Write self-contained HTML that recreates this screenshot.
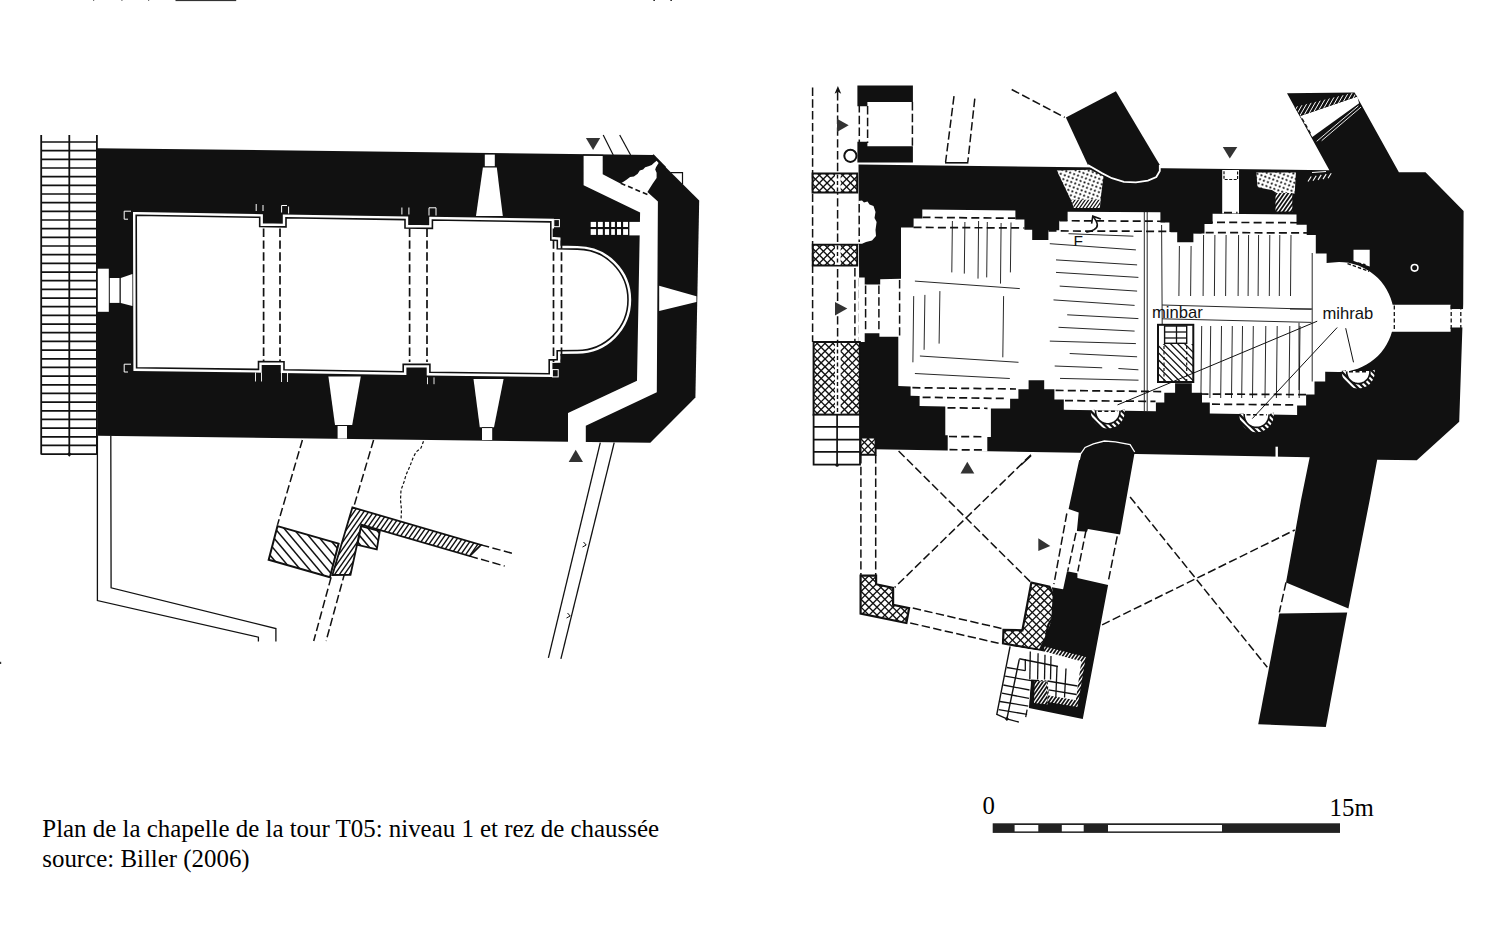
<!DOCTYPE html><html><head><meta charset="utf-8"><title>Plan</title><style>html,body{margin:0;padding:0;background:#fff;width:1502px;height:926px;overflow:hidden;font-family:"Liberation Serif",serif}</style></head><body><svg width="1502" height="926" viewBox="0 0 1502 926" style="position:absolute;left:0;top:0"><rect x="93.0" y="0.0" width="1.2" height="0.8" fill="#555" stroke="none" stroke-width="0"/>
<rect x="121.3" y="0.0" width="1.2" height="0.8" fill="#555" stroke="none" stroke-width="0"/>
<rect x="148.0" y="0.0" width="1.2" height="0.8" fill="#555" stroke="none" stroke-width="0"/>
<rect x="175.5" y="0.0" width="60.7" height="1.1" fill="#333" stroke="none" stroke-width="0"/>
<rect x="653.3" y="0.0" width="1.7" height="1.0" fill="#333" stroke="none" stroke-width="0"/>
<rect x="670.3" y="0.0" width="1.7" height="1.0" fill="#333" stroke="none" stroke-width="0"/>
<rect x="0.0" y="661.8" width="1.2" height="2.2" fill="#333" stroke="none" stroke-width="0"/>
<line x1="41.2" y1="135.0" x2="41.2" y2="454.4" stroke="#111" stroke-width="1.8"/>
<line x1="69.3" y1="135.0" x2="69.3" y2="454.4" stroke="#111" stroke-width="1.8"/>
<line x1="96.9" y1="135.0" x2="96.9" y2="454.4" stroke="#111" stroke-width="1.8"/>
<line x1="41.2" y1="142.0" x2="96.9" y2="142.0" stroke="#111" stroke-width="1.7"/>
<line x1="41.2" y1="150.7" x2="96.9" y2="150.7" stroke="#111" stroke-width="1.7"/>
<line x1="41.2" y1="159.3" x2="96.9" y2="159.3" stroke="#111" stroke-width="1.7"/>
<line x1="41.2" y1="168.0" x2="96.9" y2="168.0" stroke="#111" stroke-width="1.7"/>
<line x1="41.2" y1="176.7" x2="96.9" y2="176.7" stroke="#111" stroke-width="1.7"/>
<line x1="41.2" y1="185.3" x2="96.9" y2="185.3" stroke="#111" stroke-width="1.7"/>
<line x1="41.2" y1="194.0" x2="96.9" y2="194.0" stroke="#111" stroke-width="1.7"/>
<line x1="41.2" y1="202.7" x2="96.9" y2="202.7" stroke="#111" stroke-width="1.7"/>
<line x1="41.2" y1="211.4" x2="96.9" y2="211.4" stroke="#111" stroke-width="1.7"/>
<line x1="41.2" y1="220.0" x2="96.9" y2="220.0" stroke="#111" stroke-width="1.7"/>
<line x1="41.2" y1="228.7" x2="96.9" y2="228.7" stroke="#111" stroke-width="1.7"/>
<line x1="41.2" y1="237.4" x2="96.9" y2="237.4" stroke="#111" stroke-width="1.7"/>
<line x1="41.2" y1="246.0" x2="96.9" y2="246.0" stroke="#111" stroke-width="1.7"/>
<line x1="41.2" y1="254.7" x2="96.9" y2="254.7" stroke="#111" stroke-width="1.7"/>
<line x1="41.2" y1="263.4" x2="96.9" y2="263.4" stroke="#111" stroke-width="1.7"/>
<line x1="41.2" y1="272.1" x2="96.9" y2="272.1" stroke="#111" stroke-width="1.7"/>
<line x1="41.2" y1="280.7" x2="96.9" y2="280.7" stroke="#111" stroke-width="1.7"/>
<line x1="41.2" y1="289.4" x2="96.9" y2="289.4" stroke="#111" stroke-width="1.7"/>
<line x1="41.2" y1="298.1" x2="96.9" y2="298.1" stroke="#111" stroke-width="1.7"/>
<line x1="41.2" y1="306.7" x2="96.9" y2="306.7" stroke="#111" stroke-width="1.7"/>
<line x1="41.2" y1="315.4" x2="96.9" y2="315.4" stroke="#111" stroke-width="1.7"/>
<line x1="41.2" y1="324.1" x2="96.9" y2="324.1" stroke="#111" stroke-width="1.7"/>
<line x1="41.2" y1="332.7" x2="96.9" y2="332.7" stroke="#111" stroke-width="1.7"/>
<line x1="41.2" y1="341.4" x2="96.9" y2="341.4" stroke="#111" stroke-width="1.7"/>
<line x1="41.2" y1="350.1" x2="96.9" y2="350.1" stroke="#111" stroke-width="1.7"/>
<line x1="41.2" y1="358.8" x2="96.9" y2="358.8" stroke="#111" stroke-width="1.7"/>
<line x1="41.2" y1="367.4" x2="96.9" y2="367.4" stroke="#111" stroke-width="1.7"/>
<line x1="41.2" y1="376.1" x2="96.9" y2="376.1" stroke="#111" stroke-width="1.7"/>
<line x1="41.2" y1="384.8" x2="96.9" y2="384.8" stroke="#111" stroke-width="1.7"/>
<line x1="41.2" y1="393.4" x2="96.9" y2="393.4" stroke="#111" stroke-width="1.7"/>
<line x1="41.2" y1="402.1" x2="96.9" y2="402.1" stroke="#111" stroke-width="1.7"/>
<line x1="41.2" y1="410.8" x2="96.9" y2="410.8" stroke="#111" stroke-width="1.7"/>
<line x1="41.2" y1="419.4" x2="96.9" y2="419.4" stroke="#111" stroke-width="1.7"/>
<line x1="41.2" y1="428.1" x2="96.9" y2="428.1" stroke="#111" stroke-width="1.7"/>
<line x1="41.2" y1="436.8" x2="96.9" y2="436.8" stroke="#111" stroke-width="1.7"/>
<line x1="41.2" y1="445.4" x2="96.9" y2="445.4" stroke="#111" stroke-width="1.7"/>
<line x1="41.2" y1="454.1" x2="96.9" y2="454.1" stroke="#111" stroke-width="1.7"/>
<polygon points="69.3,451.9 71.6,454.3 69.3,456.7 67.0,454.3" fill="#111" stroke="none" stroke-width="0" />
<polygon points="96.4,148.2 653.4,154.9 699.2,200.6 695.4,397.4 650.3,442.7 97.4,435.8" fill="#111" stroke="none" stroke-width="0" />
<rect x="97.8" y="268.7" width="11.0" height="43.1" fill="#fff" stroke="none" stroke-width="0"/>
<rect x="109.8" y="278.0" width="9.7" height="24.9" fill="#fff" stroke="none" stroke-width="0"/>
<polygon points="120.8,278.0 132.4,273.9 132.4,306.0 120.8,302.9" fill="#fff" stroke="none" stroke-width="0" />
<rect x="484.8" y="154.6" width="10.0" height="11.6" fill="#fff" stroke="none" stroke-width="0"/>
<polygon points="482.9,167.4 496.8,167.4 502.8,216.0 476.0,216.0" fill="#fff" stroke="none" stroke-width="0" />
<polygon points="328.4,376.5 360.8,376.5 352.2,425.0 335.0,425.0" fill="#fff" stroke="none" stroke-width="0" />
<rect x="337.6" y="426.0" width="9.4" height="12.6" fill="#fff" stroke="none" stroke-width="0"/>
<line x1="337.6" y1="425.5" x2="347.0" y2="425.5" stroke="#111" stroke-width="0.8"/>
<polygon points="473.5,379.1 503.6,379.1 494.0,427.3 479.8,427.3" fill="#fff" stroke="none" stroke-width="0" />
<rect x="482.0" y="428.0" width="10.2" height="12.0" fill="#fff" stroke="none" stroke-width="0"/>
<line x1="482.0" y1="427.6" x2="492.2" y2="427.6" stroke="#111" stroke-width="0.8"/>
<polygon points="583.6,155.4 602.7,155.4 602.7,174.2 620.4,183.5 623.1,181.9 626.5,179.8 630.1,177.0 633.9,176.5 637.7,173.8 639.8,170.5 643.1,169.4 645.2,167.3 648.5,166.2 651.7,165.1 653.9,163.0 656.6,160.8 658.6,163.0 656.0,167.3 655.2,169.4 656.6,172.7 656.6,178.1 652.8,183.5 647.4,192.1 657.9,201.4 656.8,392.2 585.8,425.8 585.8,443.5 568.0,443.5 568.0,413.0 637.0,380.8 640.1,212.4 583.6,185.2" fill="#fff" stroke="none" stroke-width="0" />
<line x1="583.0" y1="155.2" x2="603.3" y2="155.4" stroke="#111" stroke-width="1.2"/>
<line x1="653.0" y1="154.8" x2="665.5" y2="167.6" stroke="#111" stroke-width="1.6"/>
<line x1="620.7" y1="183.2" x2="647.6" y2="194.6" stroke="#111" stroke-width="1.6" stroke-dasharray="5,3"/>
<polygon points="629.4,221.9 641.0,221.9 641.0,235.4 629.4,235.4" fill="#fff" stroke="none" stroke-width="0" />
<rect x="590.7" y="221.9" width="5.4" height="5.1" fill="#fff" stroke="none" stroke-width="0"/>
<rect x="590.7" y="229.1" width="5.4" height="5.8" fill="#fff" stroke="none" stroke-width="0"/>
<rect x="597.9" y="221.9" width="4.9" height="5.1" fill="#fff" stroke="none" stroke-width="0"/>
<rect x="597.9" y="229.1" width="4.9" height="5.8" fill="#fff" stroke="none" stroke-width="0"/>
<rect x="604.9" y="221.9" width="4.2" height="5.1" fill="#fff" stroke="none" stroke-width="0"/>
<rect x="604.9" y="229.1" width="4.2" height="5.8" fill="#fff" stroke="none" stroke-width="0"/>
<rect x="611.2" y="221.9" width="3.7" height="5.1" fill="#fff" stroke="none" stroke-width="0"/>
<rect x="611.2" y="229.1" width="3.7" height="5.8" fill="#fff" stroke="none" stroke-width="0"/>
<rect x="617.0" y="221.9" width="4.0" height="5.1" fill="#fff" stroke="none" stroke-width="0"/>
<rect x="617.0" y="229.1" width="4.0" height="5.8" fill="#fff" stroke="none" stroke-width="0"/>
<rect x="623.1" y="221.9" width="4.9" height="5.1" fill="#fff" stroke="none" stroke-width="0"/>
<rect x="623.1" y="229.1" width="4.9" height="5.8" fill="#fff" stroke="none" stroke-width="0"/>
<polygon points="659.2,285.8 696.4,296.3 696.4,302.0 659.2,311.0" fill="#fff" stroke="none" stroke-width="0" />
<path d="M136.2,215.3 L259.7,217.3 L259.7,226.5 L286,226.9 L286,217.7 L405,219.6 L405,228.0 L432.4,228.4 L432.4,220.0 L550.8,221.9 L550.8,240.0 L557.3,240.4 L557.3,248.7 L577.3,249.1 A50.7,50.7 0 0 1 577.3,350.5 L557.2,350.7 L557.2,359.7 L549.2,359.9 L549.2,373.8 L429.9,372.3 L429.9,364.4 L403.2,364.4 L403.2,371.7 L284,369.8 L284,361.8 L258.5,361.5 L258.5,369.4 L136.6,367.8 Z" fill="#fff" stroke="#fff" stroke-width="6.4" />
<path d="M136.2,215.3 L259.7,217.3 L259.7,226.5 L286,226.9 L286,217.7 L405,219.6 L405,228.0 L432.4,228.4 L432.4,220.0 L550.8,221.9 L550.8,240.0 L557.3,240.4 L557.3,248.7 L577.3,249.1 A50.7,50.7 0 0 1 577.3,350.5 L557.2,350.7 L557.2,359.7 L549.2,359.9 L549.2,373.8 L429.9,372.3 L429.9,364.4 L403.2,364.4 L403.2,371.7 L284,369.8 L284,361.8 L258.5,361.5 L258.5,369.4 L136.6,367.8 Z" fill="#fff" stroke="#111" stroke-width="1.6" />
<rect x="553.8" y="219.6" width="5.6" height="7.1" fill="#111" stroke="#fff" stroke-width="1.0"/>
<rect x="552.4" y="369.6" width="5.8" height="7.3" fill="#111" stroke="#fff" stroke-width="1.0"/>
<polyline points="131.0,211.2 124.2,211.2 124.2,219.2 128.0,219.2" fill="none" stroke="#fff" stroke-width="1.0" />
<polyline points="131.0,364.2 124.2,364.2 124.2,372.0 128.0,372.0" fill="none" stroke="#fff" stroke-width="1.0" />
<line x1="256.2" y1="204.0" x2="256.2" y2="211.0" stroke="#fff" stroke-width="1.0"/>
<line x1="263.0" y1="205.0" x2="263.0" y2="211.0" stroke="#fff" stroke-width="1.0"/>
<line x1="401.9" y1="207.5" x2="401.9" y2="214.5" stroke="#fff" stroke-width="1.0"/>
<line x1="408.9" y1="207.5" x2="408.9" y2="214.5" stroke="#fff" stroke-width="1.0"/>
<polyline points="281.6,212.5 281.6,205.5 287.0,205.5" fill="none" stroke="#fff" stroke-width="1.0" />
<line x1="288.6" y1="206.5" x2="288.6" y2="213.5" stroke="#fff" stroke-width="1.0"/>
<polyline points="429.0,215.5 429.0,207.8 436.0,207.8 436.0,215.5" fill="none" stroke="#fff" stroke-width="1.0" />
<line x1="255.5" y1="372.5" x2="255.5" y2="381.5" stroke="#fff" stroke-width="0.9"/>
<line x1="261.5" y1="372.5" x2="261.5" y2="381.5" stroke="#fff" stroke-width="0.9"/>
<line x1="281.5" y1="373.0" x2="281.5" y2="382.0" stroke="#fff" stroke-width="0.9"/>
<line x1="287.5" y1="373.0" x2="287.5" y2="382.0" stroke="#fff" stroke-width="0.9"/>
<line x1="427.5" y1="377.4" x2="427.5" y2="384.2" stroke="#fff" stroke-width="0.9"/>
<line x1="434.0" y1="377.4" x2="434.0" y2="384.2" stroke="#fff" stroke-width="0.9"/>
<line x1="263.6" y1="228.5" x2="263.6" y2="362.0" stroke="#111" stroke-width="1.7" stroke-dasharray="8.4,3.5"/>
<line x1="280.0" y1="228.5" x2="280.0" y2="362.0" stroke="#111" stroke-width="1.7" stroke-dasharray="8.4,3.5"/>
<line x1="409.6" y1="228.5" x2="409.6" y2="362.0" stroke="#111" stroke-width="1.7" stroke-dasharray="8.4,3.5"/>
<line x1="427.0" y1="228.5" x2="427.0" y2="362.0" stroke="#111" stroke-width="1.7" stroke-dasharray="8.4,3.5"/>
<line x1="553.5" y1="228.5" x2="553.5" y2="362.0" stroke="#111" stroke-width="1.7" stroke-dasharray="8.4,3.5"/>
<line x1="561.5" y1="228.5" x2="561.5" y2="362.0" stroke="#111" stroke-width="1.7" stroke-dasharray="8.4,3.5"/>
<polygon points="585.9,137.9 600.2,137.9 593.1,150.1" fill="#333" stroke="none" stroke-width="0" />
<polygon points="568.7,462.1 583.0,462.1 575.7,449.7" fill="#333" stroke="none" stroke-width="0" />
<line x1="603.2" y1="135.0" x2="613.2" y2="154.9" stroke="#111" stroke-width="1.2"/>
<line x1="619.7" y1="135.0" x2="630.6" y2="155.0" stroke="#111" stroke-width="1.2"/>
<polyline points="670.4,172.7 682.5,172.7 682.5,184.2" fill="none" stroke="#111" stroke-width="1.2" />
<line x1="600.3" y1="442.7" x2="548.4" y2="657.8" stroke="#111" stroke-width="1.3"/>
<line x1="614.2" y1="442.7" x2="560.9" y2="658.8" stroke="#111" stroke-width="1.3"/>
<polyline points="583.5,542.0 586.2,545.0 582.5,547.0" fill="none" stroke="#111" stroke-width="1.0" />
<polyline points="567.5,613.0 570.2,616.0 566.5,618.0" fill="none" stroke="#111" stroke-width="1.0" />
<polyline points="97.4,435.5 97.4,600.6 258.4,637.2 258.4,641.5" fill="none" stroke="#111" stroke-width="1.3" />
<polyline points="110.8,435.5 111.1,587.8 275.9,628.5 275.9,641.5" fill="none" stroke="#111" stroke-width="1.3" />
<line x1="302.4" y1="440.0" x2="277.5" y2="524.9" stroke="#111" stroke-width="1.5" stroke-dasharray="8.4,3.4"/>
<line x1="373.6" y1="440.0" x2="353.6" y2="507.4" stroke="#111" stroke-width="1.5" stroke-dasharray="8.4,3.4"/>
<line x1="344.9" y1="572.3" x2="326.1" y2="641.0" stroke="#111" stroke-width="1.5" stroke-dasharray="8.4,3.4"/>
<line x1="331.1" y1="577.3" x2="313.7" y2="641.0" stroke="#111" stroke-width="1.5" stroke-dasharray="8.4,3.4"/>
<line x1="481.0" y1="544.9" x2="513.4" y2="553.6" stroke="#111" stroke-width="1.5" stroke-dasharray="8.4,3.4"/>
<line x1="469.7" y1="556.1" x2="504.7" y2="566.1" stroke="#111" stroke-width="1.5" stroke-dasharray="8.4,3.4"/>
<polyline points="423.5,441.2 421.0,448.0 416.0,452.0 413.0,458.0 410.0,466.0 406.0,475.0 404.0,482.0 401.0,490.0 400.5,500.0 401.5,510.0 401.0,519.9" fill="none" stroke="#111" stroke-width="1.2" stroke-dasharray="3,2" />
<clipPath id="hA"><polygon points="277.5,526.1 338.6,543.6 329.9,577.3 268.7,559.8"/></clipPath>
<polygon points="277.5,526.1 338.6,543.6 329.9,577.3 268.7,559.8" fill="#fff" stroke="none" stroke-width="0" />
<g clip-path="url(#hA)"><line x1="312.1" y1="485.5" x2="370.3" y2="554.9" stroke="#111" stroke-width="1.5"/><line x1="306.7" y1="490.0" x2="365.0" y2="559.4" stroke="#111" stroke-width="1.5"/><line x1="301.3" y1="494.5" x2="359.6" y2="563.9" stroke="#111" stroke-width="1.5"/><line x1="296.0" y1="499.0" x2="354.2" y2="568.4" stroke="#111" stroke-width="1.5"/><line x1="290.6" y1="503.5" x2="348.9" y2="572.9" stroke="#111" stroke-width="1.5"/><line x1="285.2" y1="508.0" x2="343.5" y2="577.4" stroke="#111" stroke-width="1.5"/><line x1="279.9" y1="512.5" x2="338.1" y2="581.9" stroke="#111" stroke-width="1.5"/><line x1="274.5" y1="517.0" x2="332.8" y2="586.4" stroke="#111" stroke-width="1.5"/><line x1="269.2" y1="521.5" x2="327.4" y2="590.9" stroke="#111" stroke-width="1.5"/><line x1="263.8" y1="526.0" x2="322.1" y2="595.4" stroke="#111" stroke-width="1.5"/><line x1="258.4" y1="530.5" x2="316.7" y2="599.9" stroke="#111" stroke-width="1.5"/><line x1="253.1" y1="535.0" x2="311.3" y2="604.4" stroke="#111" stroke-width="1.5"/><line x1="247.7" y1="539.5" x2="306.0" y2="608.9" stroke="#111" stroke-width="1.5"/><line x1="242.3" y1="544.0" x2="300.6" y2="613.4" stroke="#111" stroke-width="1.5"/><line x1="237.0" y1="548.5" x2="295.2" y2="617.9" stroke="#111" stroke-width="1.5"/></g>
<polygon points="277.5,526.1 338.6,543.6 329.9,577.3 268.7,559.8" fill="none" stroke="#111" stroke-width="2.0" />
<clipPath id="hC"><polygon points="361.0,526.1 379.8,531.1 376.8,549.3 357.4,544.9"/></clipPath>
<polygon points="361.0,526.1 379.8,531.1 376.8,549.3 357.4,544.9" fill="#fff" stroke="none" stroke-width="0" />
<g clip-path="url(#hC)"><line x1="373.8" y1="509.7" x2="397.1" y2="537.4" stroke="#111" stroke-width="1.5"/><line x1="369.6" y1="513.2" x2="392.9" y2="541.0" stroke="#111" stroke-width="1.5"/><line x1="365.4" y1="516.7" x2="388.7" y2="544.5" stroke="#111" stroke-width="1.5"/><line x1="361.2" y1="520.3" x2="384.5" y2="548.0" stroke="#111" stroke-width="1.5"/><line x1="356.9" y1="523.8" x2="380.3" y2="551.6" stroke="#111" stroke-width="1.5"/><line x1="352.7" y1="527.4" x2="376.0" y2="555.1" stroke="#111" stroke-width="1.5"/><line x1="348.5" y1="530.9" x2="371.8" y2="558.7" stroke="#111" stroke-width="1.5"/><line x1="344.3" y1="534.4" x2="367.6" y2="562.2" stroke="#111" stroke-width="1.5"/><line x1="340.1" y1="538.0" x2="363.4" y2="565.7" stroke="#111" stroke-width="1.5"/></g>
<polygon points="361.0,526.1 379.8,531.1 376.8,549.3 357.4,544.9" fill="none" stroke="#111" stroke-width="1.8" />
<clipPath id="hB"><polygon points="352.4,507.4 481.0,544.9 469.7,556.1 361.3,524.7 350.5,574.8 332.4,575.0"/></clipPath>
<polygon points="352.4,507.4 481.0,544.9 469.7,556.1 361.3,524.7 350.5,574.8 332.4,575.0" fill="#fff" stroke="none" stroke-width="0" />
<g clip-path="url(#hB)"><line x1="289.9" y1="561.5" x2="385.9" y2="424.5" stroke="#111" stroke-width="1.4"/><line x1="293.2" y1="563.8" x2="389.1" y2="426.8" stroke="#111" stroke-width="1.4"/><line x1="296.5" y1="566.1" x2="392.4" y2="429.1" stroke="#111" stroke-width="1.4"/><line x1="299.8" y1="568.4" x2="395.7" y2="431.4" stroke="#111" stroke-width="1.4"/><line x1="303.0" y1="570.7" x2="399.0" y2="433.7" stroke="#111" stroke-width="1.4"/><line x1="306.3" y1="573.0" x2="402.2" y2="436.0" stroke="#111" stroke-width="1.4"/><line x1="309.6" y1="575.3" x2="405.5" y2="438.3" stroke="#111" stroke-width="1.4"/><line x1="312.9" y1="577.6" x2="408.8" y2="440.6" stroke="#111" stroke-width="1.4"/><line x1="316.1" y1="579.9" x2="412.1" y2="442.9" stroke="#111" stroke-width="1.4"/><line x1="319.4" y1="582.2" x2="415.3" y2="445.2" stroke="#111" stroke-width="1.4"/><line x1="322.7" y1="584.5" x2="418.6" y2="447.5" stroke="#111" stroke-width="1.4"/><line x1="326.0" y1="586.8" x2="421.9" y2="449.8" stroke="#111" stroke-width="1.4"/><line x1="329.2" y1="589.1" x2="425.2" y2="452.0" stroke="#111" stroke-width="1.4"/><line x1="332.5" y1="591.3" x2="428.5" y2="454.3" stroke="#111" stroke-width="1.4"/><line x1="335.8" y1="593.6" x2="431.7" y2="456.6" stroke="#111" stroke-width="1.4"/><line x1="339.1" y1="595.9" x2="435.0" y2="458.9" stroke="#111" stroke-width="1.4"/><line x1="342.4" y1="598.2" x2="438.3" y2="461.2" stroke="#111" stroke-width="1.4"/><line x1="345.6" y1="600.5" x2="441.6" y2="463.5" stroke="#111" stroke-width="1.4"/><line x1="348.9" y1="602.8" x2="444.8" y2="465.8" stroke="#111" stroke-width="1.4"/><line x1="352.2" y1="605.1" x2="448.1" y2="468.1" stroke="#111" stroke-width="1.4"/><line x1="355.5" y1="607.4" x2="451.4" y2="470.4" stroke="#111" stroke-width="1.4"/><line x1="358.7" y1="609.7" x2="454.7" y2="472.7" stroke="#111" stroke-width="1.4"/><line x1="362.0" y1="612.0" x2="457.9" y2="475.0" stroke="#111" stroke-width="1.4"/><line x1="365.3" y1="614.3" x2="461.2" y2="477.3" stroke="#111" stroke-width="1.4"/><line x1="368.6" y1="616.6" x2="464.5" y2="479.6" stroke="#111" stroke-width="1.4"/><line x1="371.8" y1="618.9" x2="467.8" y2="481.9" stroke="#111" stroke-width="1.4"/><line x1="375.1" y1="621.2" x2="471.0" y2="484.2" stroke="#111" stroke-width="1.4"/><line x1="378.4" y1="623.5" x2="474.3" y2="486.5" stroke="#111" stroke-width="1.4"/><line x1="381.7" y1="625.8" x2="477.6" y2="488.8" stroke="#111" stroke-width="1.4"/><line x1="384.9" y1="628.1" x2="480.9" y2="491.1" stroke="#111" stroke-width="1.4"/><line x1="388.2" y1="630.4" x2="484.2" y2="493.3" stroke="#111" stroke-width="1.4"/><line x1="391.5" y1="632.6" x2="487.4" y2="495.6" stroke="#111" stroke-width="1.4"/><line x1="394.8" y1="634.9" x2="490.7" y2="497.9" stroke="#111" stroke-width="1.4"/><line x1="398.1" y1="637.2" x2="494.0" y2="500.2" stroke="#111" stroke-width="1.4"/><line x1="401.3" y1="639.5" x2="497.3" y2="502.5" stroke="#111" stroke-width="1.4"/><line x1="404.6" y1="641.8" x2="500.5" y2="504.8" stroke="#111" stroke-width="1.4"/><line x1="407.9" y1="644.1" x2="503.8" y2="507.1" stroke="#111" stroke-width="1.4"/><line x1="411.2" y1="646.4" x2="507.1" y2="509.4" stroke="#111" stroke-width="1.4"/><line x1="414.4" y1="648.7" x2="510.4" y2="511.7" stroke="#111" stroke-width="1.4"/><line x1="417.7" y1="651.0" x2="513.6" y2="514.0" stroke="#111" stroke-width="1.4"/><line x1="421.0" y1="653.3" x2="516.9" y2="516.3" stroke="#111" stroke-width="1.4"/><line x1="424.3" y1="655.6" x2="520.2" y2="518.6" stroke="#111" stroke-width="1.4"/><line x1="427.5" y1="657.9" x2="523.5" y2="520.9" stroke="#111" stroke-width="1.4"/></g>
<polygon points="352.4,507.4 481.0,544.9 469.7,556.1 361.3,524.7 350.5,574.8 332.4,575.0" fill="none" stroke="#111" stroke-width="1.8" />
<line x1="812.6" y1="87.5" x2="812.6" y2="342.0" stroke="#111" stroke-width="1.5" stroke-dasharray="8.4,3.4"/>
<line x1="837.6" y1="92.0" x2="837.6" y2="342.0" stroke="#111" stroke-width="1.5" stroke-dasharray="8.4,3.4"/>
<polygon points="834.6,93.8 837.9,86.0 841.2,93.8 837.9,91.8" fill="#111" stroke="none" stroke-width="0" />
<polygon points="837.0,118.7 848.7,125.2 837.0,132.0" fill="#333" stroke="none" stroke-width="0" />
<polygon points="835.0,301.9 847.3,308.4 835.0,315.5" fill="#333" stroke="none" stroke-width="0" />
<circle cx="850.4" cy="155.8" r="6.1" fill="#fff" stroke="#111" stroke-width="2.0"/>
<line x1="859.3" y1="104.0" x2="859.3" y2="143.0" stroke="#111" stroke-width="1.5" stroke-dasharray="8.4,3.4"/>
<line x1="867.6" y1="106.0" x2="867.6" y2="143.0" stroke="#111" stroke-width="1.5" stroke-dasharray="8.4,3.4"/>
<line x1="912.4" y1="102.0" x2="912.4" y2="146.0" stroke="#111" stroke-width="1.5" stroke-dasharray="8.4,3.4"/>
<line x1="859.4" y1="243.0" x2="859.4" y2="245.0" stroke="#111" stroke-width="1.5"/>
<line x1="854.9" y1="268.0" x2="854.9" y2="342.0" stroke="#111" stroke-width="1.5" stroke-dasharray="8.4,3.4"/>
<line x1="859.4" y1="278.0" x2="859.4" y2="342.0" stroke="#111" stroke-width="1.5" stroke-dasharray="8.4,3.4"/>
<line x1="860.9" y1="455.0" x2="860.9" y2="576.0" stroke="#111" stroke-width="1.5" stroke-dasharray="8.4,3.4"/>
<line x1="875.7" y1="455.0" x2="875.7" y2="576.0" stroke="#111" stroke-width="1.5" stroke-dasharray="8.4,3.4"/>
<polygon points="857.4,85.5 912.9,85.5 912.9,102.0 867.4,102.0 867.4,106.2 857.4,106.2" fill="#111" stroke="none" stroke-width="0" />
<polygon points="857.4,141.8 867.4,141.8 867.4,146.2 912.9,146.2 912.9,162.4 857.4,162.4" fill="#111" stroke="none" stroke-width="0" />
<line x1="954.0" y1="96.2" x2="945.6" y2="162.0" stroke="#111" stroke-width="1.5" stroke-dasharray="8.4,3.4"/>
<line x1="974.8" y1="98.7" x2="967.8" y2="162.0" stroke="#111" stroke-width="1.5" stroke-dasharray="8.4,3.4"/>
<line x1="945.0" y1="162.8" x2="968.4" y2="162.8" stroke="#111" stroke-width="1.6"/>
<line x1="1011.7" y1="89.5" x2="1064.7" y2="117.4" stroke="#111" stroke-width="1.5" stroke-dasharray="8.4,3.4"/>
<polygon points="858.5,164.5 1329.4,170.2 1287.0,93.2 1354.6,92.6 1398.9,172.3 1425.5,172.3 1463.6,211.1 1463.2,304.0 1459.2,421.8 1416.8,460.3 1377.2,459.8 1369.7,500.0 1348.4,608.6 1286.0,582.4 1301.0,500.0 1309.7,457.3 1136.7,453.9 1079.2,452.8 860.0,449.0" fill="#111" stroke="none" stroke-width="0" />
<polygon points="1279.3,613.6 1347.2,612.4 1325.8,727.0 1258.2,724.3" fill="#111" stroke="none" stroke-width="0" />
<line x1="1286.0" y1="582.4" x2="1279.3" y2="612.4" stroke="#111" stroke-width="1.5" stroke-dasharray="8.4,3.4"/>
<rect x="1275.5" y="446.7" width="2.4" height="10.3" fill="#fff" stroke="none" stroke-width="0"/>
<polygon points="1300.2,116.0 1357.4,96.6 1359.1,103.3 1312.3,136.9" fill="#fff" stroke="none" stroke-width="0" />
<clipPath id="hE"><polygon points="1294.5,107.0 1353.0,92.8 1357.4,96.6 1300.2,116.0"/></clipPath>
<polygon points="1294.5,107.0 1353.0,92.8 1357.4,96.6 1300.2,116.0" fill="#111" stroke="none" stroke-width="0" />
<g clip-path="url(#hE)"><line x1="1275.8" y1="116.5" x2="1311.3" y2="54.9" stroke="#fff" stroke-width="1.0"/><line x1="1278.7" y1="118.2" x2="1314.3" y2="56.6" stroke="#fff" stroke-width="1.0"/><line x1="1281.7" y1="119.9" x2="1317.2" y2="58.3" stroke="#fff" stroke-width="1.0"/><line x1="1284.6" y1="121.6" x2="1320.2" y2="60.0" stroke="#fff" stroke-width="1.0"/><line x1="1287.6" y1="123.3" x2="1323.1" y2="61.7" stroke="#fff" stroke-width="1.0"/><line x1="1290.5" y1="125.0" x2="1326.0" y2="63.4" stroke="#fff" stroke-width="1.0"/><line x1="1293.5" y1="126.7" x2="1329.0" y2="65.1" stroke="#fff" stroke-width="1.0"/><line x1="1296.4" y1="128.4" x2="1331.9" y2="66.8" stroke="#fff" stroke-width="1.0"/><line x1="1299.4" y1="130.1" x2="1334.9" y2="68.5" stroke="#fff" stroke-width="1.0"/><line x1="1302.3" y1="131.8" x2="1337.8" y2="70.2" stroke="#fff" stroke-width="1.0"/><line x1="1305.2" y1="133.5" x2="1340.8" y2="71.9" stroke="#fff" stroke-width="1.0"/><line x1="1308.2" y1="135.2" x2="1343.7" y2="73.6" stroke="#fff" stroke-width="1.0"/><line x1="1311.1" y1="136.9" x2="1346.7" y2="75.3" stroke="#fff" stroke-width="1.0"/><line x1="1314.1" y1="138.6" x2="1349.6" y2="77.0" stroke="#fff" stroke-width="1.0"/><line x1="1317.0" y1="140.3" x2="1352.5" y2="78.7" stroke="#fff" stroke-width="1.0"/><line x1="1320.0" y1="142.0" x2="1355.5" y2="80.4" stroke="#fff" stroke-width="1.0"/><line x1="1322.9" y1="143.7" x2="1358.4" y2="82.1" stroke="#fff" stroke-width="1.0"/><line x1="1325.9" y1="145.4" x2="1361.4" y2="83.8" stroke="#fff" stroke-width="1.0"/><line x1="1328.8" y1="147.1" x2="1364.3" y2="85.5" stroke="#fff" stroke-width="1.0"/><line x1="1331.7" y1="148.8" x2="1367.3" y2="87.2" stroke="#fff" stroke-width="1.0"/><line x1="1334.7" y1="150.5" x2="1370.2" y2="88.9" stroke="#fff" stroke-width="1.0"/><line x1="1337.6" y1="152.2" x2="1373.2" y2="90.6" stroke="#fff" stroke-width="1.0"/><line x1="1340.6" y1="153.9" x2="1376.1" y2="92.3" stroke="#fff" stroke-width="1.0"/></g>
<line x1="1316.7" y1="141.3" x2="1358.4" y2="105.9" stroke="#fff" stroke-width="0.9"/>
<line x1="1321.7" y1="140.7" x2="1361.0" y2="107.1" stroke="#fff" stroke-width="0.9"/>
<line x1="1302.1" y1="118.5" x2="1311.0" y2="134.3" stroke="#111" stroke-width="1.3" stroke-dasharray="4,2.5"/>
<polygon points="1065.9,117.4 1115.9,91.2 1159.8,165.0 1159.8,171.0 1156.3,177.0 1147.9,180.6 1135.9,182.4 1123.9,181.8 1111.9,178.2 1102.3,173.4 1087.9,165.0" fill="#111" stroke="none" stroke-width="0" />
<polyline points="1159.8,165.0 1159.8,171.0 1156.3,177.0 1147.9,180.6 1135.9,182.4 1123.9,181.8 1111.9,178.2 1102.3,173.4 1087.9,165.0" fill="none" stroke="#fff" stroke-width="1.8" />
<polygon points="858.3,201.0 862.0,200.5 864.0,202.5 867.5,201.5 869.5,204.5 873.5,206.0 875.5,212.0 874.5,218.0 876.6,222.0 875.5,230.0 876.0,236.0 872.0,240.5 866.0,242.0 862.0,243.7 858.3,243.7" fill="#fff" stroke="none" stroke-width="0" />
<line x1="859.2" y1="204.0" x2="859.2" y2="242.0" stroke="#111" stroke-width="1.5" stroke-dasharray="8.4,3.4"/>
<pattern id="dots" width="4.2" height="4.2" patternUnits="userSpaceOnUse" patternTransform="rotate(20)"><rect width="4.2" height="4.2" fill="#fff"/><circle cx="2.1" cy="2.1" r="1.0" fill="#111"/></pattern>
<polygon points="1056.8,170.4 1090.3,169.8 1103.5,176.4 1099.9,204.5 1073.6,205.7" fill="url(#dots)" stroke="none" stroke-width="0" />
<clipPath id="hS1"><polygon points="1071.0,199.8 1100.6,199.8 1099.9,208.1 1073.9,208.1"/></clipPath>
<polygon points="1071.0,199.8 1100.6,199.8 1099.9,208.1 1073.9,208.1" fill="#fff" stroke="none" stroke-width="0" />
<g clip-path="url(#hS1)"><line x1="1059.8" y1="206.9" x2="1079.7" y2="178.5" stroke="#111" stroke-width="1.2"/><line x1="1062.1" y1="208.5" x2="1082.0" y2="180.1" stroke="#111" stroke-width="1.2"/><line x1="1064.4" y1="210.1" x2="1084.3" y2="181.7" stroke="#111" stroke-width="1.2"/><line x1="1066.7" y1="211.8" x2="1086.6" y2="183.3" stroke="#111" stroke-width="1.2"/><line x1="1069.0" y1="213.4" x2="1088.9" y2="184.9" stroke="#111" stroke-width="1.2"/><line x1="1071.2" y1="215.0" x2="1091.2" y2="186.5" stroke="#111" stroke-width="1.2"/><line x1="1073.5" y1="216.6" x2="1093.5" y2="188.1" stroke="#111" stroke-width="1.2"/><line x1="1075.8" y1="218.2" x2="1095.8" y2="189.7" stroke="#111" stroke-width="1.2"/><line x1="1078.1" y1="219.8" x2="1098.1" y2="191.3" stroke="#111" stroke-width="1.2"/><line x1="1080.4" y1="221.4" x2="1100.4" y2="192.9" stroke="#111" stroke-width="1.2"/><line x1="1082.7" y1="223.0" x2="1102.6" y2="194.5" stroke="#111" stroke-width="1.2"/><line x1="1085.0" y1="224.6" x2="1104.9" y2="196.1" stroke="#111" stroke-width="1.2"/><line x1="1087.3" y1="226.2" x2="1107.2" y2="197.8" stroke="#111" stroke-width="1.2"/><line x1="1089.6" y1="227.8" x2="1109.5" y2="199.4" stroke="#111" stroke-width="1.2"/><line x1="1091.9" y1="229.4" x2="1111.8" y2="201.0" stroke="#111" stroke-width="1.2"/></g>
<polygon points="1256.3,172.6 1295.9,172.6 1294.7,193.6 1276.7,193.0 1271.9,190.0 1264.7,188.8 1257.5,187.0" fill="url(#dots)" stroke="none" stroke-width="0" />
<clipPath id="hS2"><polygon points="1275.5,193.0 1292.3,193.0 1292.3,211.5 1275.5,211.5"/></clipPath>
<polygon points="1275.5,193.0 1292.3,193.0 1292.3,211.5 1275.5,211.5" fill="#111" stroke="none" stroke-width="0" />
<g clip-path="url(#hS2)"><line x1="1262.5" y1="204.9" x2="1279.1" y2="181.2" stroke="#fff" stroke-width="1.4"/><line x1="1265.1" y1="206.8" x2="1281.7" y2="183.0" stroke="#fff" stroke-width="1.4"/><line x1="1267.7" y1="208.6" x2="1284.4" y2="184.9" stroke="#fff" stroke-width="1.4"/><line x1="1270.3" y1="210.5" x2="1287.0" y2="186.7" stroke="#fff" stroke-width="1.4"/><line x1="1273.0" y1="212.3" x2="1289.6" y2="188.5" stroke="#fff" stroke-width="1.4"/><line x1="1275.6" y1="214.1" x2="1292.2" y2="190.4" stroke="#fff" stroke-width="1.4"/><line x1="1278.2" y1="216.0" x2="1294.8" y2="192.2" stroke="#fff" stroke-width="1.4"/><line x1="1280.8" y1="217.8" x2="1297.5" y2="194.0" stroke="#fff" stroke-width="1.4"/><line x1="1283.4" y1="219.6" x2="1300.1" y2="195.9" stroke="#fff" stroke-width="1.4"/><line x1="1286.1" y1="221.5" x2="1302.7" y2="197.7" stroke="#fff" stroke-width="1.4"/><line x1="1288.7" y1="223.3" x2="1305.3" y2="199.6" stroke="#fff" stroke-width="1.4"/></g>
<line x1="1308.0" y1="181.5" x2="1311.2" y2="176.5" stroke="#fff" stroke-width="1.1"/>
<line x1="1313.0" y1="180.7" x2="1316.2" y2="175.7" stroke="#fff" stroke-width="1.1"/>
<line x1="1318.0" y1="179.9" x2="1321.2" y2="174.9" stroke="#fff" stroke-width="1.1"/>
<line x1="1323.0" y1="179.1" x2="1326.2" y2="174.1" stroke="#fff" stroke-width="1.1"/>
<line x1="1328.0" y1="178.3" x2="1331.2" y2="173.3" stroke="#fff" stroke-width="1.1"/>
<line x1="1312.0" y1="172.5" x2="1326.0" y2="171.5" stroke="#fff" stroke-width="1.0"/>
<rect x="1222.2" y="170.0" width="16.8" height="43.5" fill="#fff" stroke="none" stroke-width="0"/>
<polyline points="1224.0,171.2 1224.0,179.5 1237.6,179.5 1237.6,171.2" fill="none" stroke="#111" stroke-width="1.2" stroke-dasharray="3,1.5" />
<polygon points="901.0,227.4 913.6,227.4 913.6,218.4 922.3,218.4 922.3,209.4 1015.4,210.6 1015.4,219.6 1024.4,219.6 1024.4,229.8 1032.2,229.8 1032.2,240.0 1048.4,240.0 1048.4,230.3 1059.2,230.3 1059.2,220.7 1067.6,220.7 1067.6,211.7 1160.4,212.3 1160.4,222.5 1169.4,222.5 1169.4,232.1 1177.2,232.1 1177.2,242.3 1193.4,242.3 1193.4,233.5 1204.5,233.5 1204.5,224.0 1212.6,224.0 1212.6,213.7 1296.5,214.5 1296.5,224.7 1306.7,224.7 1306.7,234.9 1315.8,234.9 1315.8,253.4 1326.6,253.4 1326.6,263.0 1339.0,262.0 1343.8,262.2 1348.6,262.8 1353.2,263.9 1357.8,265.3 1362.2,267.2 1366.5,269.4 1370.5,271.9 1374.4,274.9 1377.9,278.1 1381.1,281.6 1384.1,285.5 1386.6,289.5 1388.8,293.8 1390.7,298.2 1392.1,302.8 1393.2,307.4 1393.8,312.2 1394.0,317.0 1393.8,321.8 1393.2,326.6 1392.1,331.2 1390.7,335.8 1388.8,340.2 1386.6,344.5 1384.1,348.5 1381.1,352.4 1377.9,355.9 1374.4,359.1 1370.5,362.1 1366.5,364.6 1362.2,366.8 1357.8,368.7 1353.2,370.1 1348.6,371.2 1343.8,371.8 1339.0,372.0 1325.2,371.8 1325.2,381.4 1314.5,381.4 1314.5,394.6 1306.1,394.6 1306.1,405.4 1297.1,405.4 1297.1,414.9 1209.8,413.4 1209.8,402.4 1202.0,402.4 1202.0,392.8 1191.8,392.8 1191.8,383.2 1175.1,383.2 1175.1,392.8 1164.3,392.8 1164.3,402.4 1155.9,402.4 1155.9,411.3 1063.8,409.8 1063.8,399.4 1054.4,399.4 1054.4,389.2 1044.2,389.2 1044.2,380.2 1028.6,380.2 1028.6,389.2 1018.4,389.2 1018.4,398.8 1010.1,398.8 1010.1,408.4 990.9,408.4 990.9,437.1 987.3,437.1 987.3,451.6 947.7,451.3 947.7,435.3 945.3,435.3 945.3,406.6 919.6,406.0 919.6,396.1 910.6,395.8 910.6,386.5 898.3,386.0 898.3,336.8 879.4,336.8 879.4,333.3 864.7,333.3 864.7,342.0 858.6,342.0 858.6,277.5 864.7,277.5 864.7,284.6 880.2,284.6 880.2,279.3 901.0,278.7" fill="#fff" stroke="none" stroke-width="0" />
<line x1="865.6" y1="285.5" x2="865.6" y2="332.5" stroke="#111" stroke-width="1.5" stroke-dasharray="8.4,3.4"/>
<line x1="878.9" y1="285.5" x2="878.9" y2="332.5" stroke="#111" stroke-width="1.5" stroke-dasharray="8.4,3.4"/>
<line x1="899.6" y1="280.0" x2="899.6" y2="336.5" stroke="#111" stroke-width="1.5" stroke-dasharray="8.4,3.4"/>
<polygon points="1390.0,304.8 1450.6,304.8 1450.6,309.0 1464.0,309.0 1464.0,327.6 1450.6,327.6 1450.6,331.8 1390.0,331.8" fill="#fff" stroke="none" stroke-width="0" />
<line x1="1394.3" y1="305.5" x2="1394.3" y2="331.0" stroke="#111" stroke-width="1.3" stroke-dasharray="4,2.5"/>
<line x1="1451.2" y1="305.5" x2="1451.2" y2="331.0" stroke="#111" stroke-width="1.3" stroke-dasharray="4,2.5"/>
<line x1="1460.8" y1="305.5" x2="1460.8" y2="331.0" stroke="#111" stroke-width="1.3" stroke-dasharray="4,2.5"/>
<polygon points="1353.5,249.8 1369.7,249.8 1369.7,266.5 1353.5,261.0" fill="#fff" stroke="none" stroke-width="0" />
<line x1="1346.9" y1="260.6" x2="1365.5" y2="264.8" stroke="#111" stroke-width="1.4" stroke-dasharray="3.5,2"/>
<line x1="1347.5" y1="263.6" x2="1369.1" y2="271.3" stroke="#111" stroke-width="1.4" stroke-dasharray="3.5,2"/>
<circle cx="1414.6" cy="267.8" r="3.3" fill="none" stroke="#fff" stroke-width="1.6"/>
<clipPath id="n1"><polygon points="1124.6,409.1 1124.8,410.9 1124.8,412.7 1124.5,414.5 1124.1,416.2 1123.6,417.9 1122.8,419.5 1121.9,421.0 1120.8,422.4 1119.6,423.7 1118.3,424.9 1116.8,425.9 1115.3,426.8 1113.6,427.5 1111.9,428.0 1110.2,428.3 1108.4,428.5 1106.6,428.5 1104.8,428.2 1103.1,427.8 1101.4,427.3 1099.8,426.5 1098.3,425.6 1096.9,424.5 1095.6,423.3 1094.4,422.0 1093.4,420.5 1092.5,419.0 1091.8,417.3 1091.3,415.6 1091.0,413.9 1090.8,412.1 1090.8,410.3 1094.9,409.7 1094.8,411.0 1094.8,412.4 1095.0,413.8 1095.3,415.1 1095.7,416.4 1096.3,417.6 1097.0,418.8 1097.8,419.9 1098.8,420.9 1099.8,421.7 1100.9,422.5 1102.1,423.2 1103.4,423.7 1104.7,424.1 1106.0,424.4 1107.3,424.5 1108.7,424.5 1110.1,424.3 1111.4,424.0 1112.7,423.6 1113.9,423.0 1115.1,422.3 1116.2,421.5 1117.2,420.5 1118.0,419.5 1118.8,418.4 1119.5,417.2 1120.0,415.9 1120.4,414.6 1120.7,413.3 1120.8,412.0 1120.8,410.6"/></clipPath>
<polygon points="1124.6,409.1 1124.8,410.9 1124.8,412.7 1124.5,414.5 1124.1,416.2 1123.6,417.9 1122.8,419.5 1121.9,421.0 1120.8,422.4 1119.6,423.7 1118.3,424.9 1116.8,425.9 1115.3,426.8 1113.6,427.5 1111.9,428.0 1110.2,428.3 1108.4,428.5 1106.6,428.5 1104.8,428.2 1103.1,427.8 1101.4,427.3 1099.8,426.5 1098.3,425.6 1096.9,424.5 1095.6,423.3 1094.4,422.0 1093.4,420.5 1092.5,419.0 1091.8,417.3 1091.3,415.6 1091.0,413.9 1090.8,412.1 1090.8,410.3 1094.9,409.7 1094.8,411.0 1094.8,412.4 1095.0,413.8 1095.3,415.1 1095.7,416.4 1096.3,417.6 1097.0,418.8 1097.8,419.9 1098.8,420.9 1099.8,421.7 1100.9,422.5 1102.1,423.2 1103.4,423.7 1104.7,424.1 1106.0,424.4 1107.3,424.5 1108.7,424.5 1110.1,424.3 1111.4,424.0 1112.7,423.6 1113.9,423.0 1115.1,422.3 1116.2,421.5 1117.2,420.5 1118.0,419.5 1118.8,418.4 1119.5,417.2 1120.0,415.9 1120.4,414.6 1120.7,413.3 1120.8,412.0 1120.8,410.6" fill="#111" stroke="none" stroke-width="0" />
<g clip-path="url(#n1)"><line x1="1108.1" y1="388.0" x2="1138.6" y2="418.5" stroke="#fff" stroke-width="2.1"/><line x1="1105.0" y1="391.1" x2="1135.5" y2="421.6" stroke="#fff" stroke-width="2.1"/><line x1="1101.9" y1="394.2" x2="1132.4" y2="424.7" stroke="#fff" stroke-width="2.1"/><line x1="1098.8" y1="397.3" x2="1129.3" y2="427.8" stroke="#fff" stroke-width="2.1"/><line x1="1095.7" y1="400.5" x2="1126.2" y2="430.9" stroke="#fff" stroke-width="2.1"/><line x1="1092.6" y1="403.6" x2="1123.0" y2="434.1" stroke="#fff" stroke-width="2.1"/><line x1="1089.4" y1="406.7" x2="1119.9" y2="437.2" stroke="#fff" stroke-width="2.1"/><line x1="1086.3" y1="409.8" x2="1116.8" y2="440.3" stroke="#fff" stroke-width="2.1"/><line x1="1083.2" y1="412.9" x2="1113.7" y2="443.4" stroke="#fff" stroke-width="2.1"/><line x1="1080.1" y1="416.0" x2="1110.6" y2="446.5" stroke="#fff" stroke-width="2.1"/><line x1="1077.0" y1="419.1" x2="1107.5" y2="449.6" stroke="#fff" stroke-width="2.1"/></g>
<polygon points="1119.2,410.5 1119.2,411.5 1119.2,412.5 1119.0,413.5 1118.8,414.5 1118.5,415.4 1118.1,416.3 1117.7,417.2 1117.1,418.0 1116.5,418.8 1115.9,419.6 1115.1,420.2 1114.3,420.8 1113.5,421.4 1112.6,421.8 1111.7,422.2 1110.8,422.5 1109.8,422.7 1108.8,422.9 1107.8,422.9 1106.8,422.9 1105.8,422.7 1104.8,422.5 1103.9,422.2 1103.0,421.8 1102.1,421.4 1101.3,420.8 1100.5,420.2 1099.7,419.6 1099.1,418.8 1098.5,418.0 1097.9,417.2 1097.5,416.3 1097.1,415.4 1096.8,414.5 1096.6,413.5 1096.4,412.5 1096.4,411.5 1096.4,410.5" fill="#fff" stroke="none" stroke-width="0" />
<line x1="1097.9" y1="411.2" x2="1117.7" y2="411.2" stroke="#111" stroke-width="1.6" stroke-dasharray="4,2.5"/>
<clipPath id="n2"><polygon points="1273.6,412.6 1273.8,414.4 1273.8,416.2 1273.5,418.0 1273.1,419.7 1272.5,421.4 1271.8,423.1 1270.9,424.6 1269.8,426.1 1268.5,427.4 1267.2,428.6 1265.7,429.6 1264.1,430.5 1262.5,431.2 1260.8,431.7 1259.0,432.0 1257.2,432.2 1255.4,432.2 1253.6,431.9 1251.9,431.5 1250.2,430.9 1248.5,430.2 1247.0,429.3 1245.5,428.2 1244.2,426.9 1243.0,425.6 1242.0,424.1 1241.1,422.5 1240.4,420.9 1239.9,419.2 1239.6,417.4 1239.4,415.6 1239.4,413.8 1243.5,413.2 1243.4,414.5 1243.4,415.9 1243.6,417.3 1243.9,418.6 1244.4,419.9 1244.9,421.2 1245.7,422.4 1246.5,423.5 1247.4,424.5 1248.5,425.4 1249.6,426.2 1250.8,426.9 1252.1,427.4 1253.4,427.8 1254.8,428.1 1256.1,428.2 1257.5,428.2 1258.9,428.0 1260.2,427.7 1261.5,427.2 1262.8,426.7 1264.0,425.9 1265.1,425.1 1266.1,424.2 1267.0,423.1 1267.8,422.0 1268.5,420.8 1269.0,419.5 1269.4,418.2 1269.7,416.8 1269.8,415.5 1269.8,414.1"/></clipPath>
<polygon points="1273.6,412.6 1273.8,414.4 1273.8,416.2 1273.5,418.0 1273.1,419.7 1272.5,421.4 1271.8,423.1 1270.9,424.6 1269.8,426.1 1268.5,427.4 1267.2,428.6 1265.7,429.6 1264.1,430.5 1262.5,431.2 1260.8,431.7 1259.0,432.0 1257.2,432.2 1255.4,432.2 1253.6,431.9 1251.9,431.5 1250.2,430.9 1248.5,430.2 1247.0,429.3 1245.5,428.2 1244.2,426.9 1243.0,425.6 1242.0,424.1 1241.1,422.5 1240.4,420.9 1239.9,419.2 1239.6,417.4 1239.4,415.6 1239.4,413.8 1243.5,413.2 1243.4,414.5 1243.4,415.9 1243.6,417.3 1243.9,418.6 1244.4,419.9 1244.9,421.2 1245.7,422.4 1246.5,423.5 1247.4,424.5 1248.5,425.4 1249.6,426.2 1250.8,426.9 1252.1,427.4 1253.4,427.8 1254.8,428.1 1256.1,428.2 1257.5,428.2 1258.9,428.0 1260.2,427.7 1261.5,427.2 1262.8,426.7 1264.0,425.9 1265.1,425.1 1266.1,424.2 1267.0,423.1 1267.8,422.0 1268.5,420.8 1269.0,419.5 1269.4,418.2 1269.7,416.8 1269.8,415.5 1269.8,414.1" fill="#111" stroke="none" stroke-width="0" />
<g clip-path="url(#n2)"><line x1="1256.8" y1="391.4" x2="1287.6" y2="422.2" stroke="#fff" stroke-width="2.1"/><line x1="1253.6" y1="394.6" x2="1284.4" y2="425.4" stroke="#fff" stroke-width="2.1"/><line x1="1250.5" y1="397.7" x2="1281.3" y2="428.5" stroke="#fff" stroke-width="2.1"/><line x1="1247.4" y1="400.8" x2="1278.2" y2="431.6" stroke="#fff" stroke-width="2.1"/><line x1="1244.3" y1="403.9" x2="1275.1" y2="434.7" stroke="#fff" stroke-width="2.1"/><line x1="1241.2" y1="407.0" x2="1272.0" y2="437.8" stroke="#fff" stroke-width="2.1"/><line x1="1238.1" y1="410.1" x2="1268.9" y2="440.9" stroke="#fff" stroke-width="2.1"/><line x1="1235.0" y1="413.2" x2="1265.8" y2="444.0" stroke="#fff" stroke-width="2.1"/><line x1="1231.9" y1="416.3" x2="1262.7" y2="447.1" stroke="#fff" stroke-width="2.1"/><line x1="1228.8" y1="419.4" x2="1259.6" y2="450.2" stroke="#fff" stroke-width="2.1"/><line x1="1225.6" y1="422.6" x2="1256.4" y2="453.4" stroke="#fff" stroke-width="2.1"/></g>
<polygon points="1268.2,414.0 1268.2,415.0 1268.2,416.0 1268.0,417.0 1267.8,418.0 1267.5,419.0 1267.1,419.9 1266.6,420.8 1266.1,421.7 1265.5,422.5 1264.8,423.2 1264.1,423.9 1263.3,424.5 1262.4,425.0 1261.5,425.5 1260.6,425.9 1259.6,426.2 1258.6,426.4 1257.6,426.6 1256.6,426.6 1255.6,426.6 1254.6,426.4 1253.6,426.2 1252.6,425.9 1251.7,425.5 1250.8,425.0 1249.9,424.5 1249.1,423.9 1248.4,423.2 1247.7,422.5 1247.1,421.7 1246.6,420.8 1246.1,419.9 1245.7,419.0 1245.4,418.0 1245.2,417.0 1245.0,416.0 1245.0,415.0 1245.0,414.0" fill="#fff" stroke="none" stroke-width="0" />
<line x1="1246.5" y1="414.7" x2="1266.7" y2="414.7" stroke="#111" stroke-width="1.6" stroke-dasharray="4,2.5"/>
<clipPath id="n3"><polygon points="1374.6,369.7 1374.8,371.4 1374.8,373.2 1374.5,374.9 1374.2,376.5 1373.6,378.2 1372.9,379.7 1372.0,381.2 1370.9,382.6 1369.8,383.9 1368.5,385.0 1367.0,386.0 1365.5,386.8 1363.9,387.5 1362.3,388.0 1360.6,388.3 1358.9,388.5 1357.1,388.5 1355.4,388.2 1353.8,387.9 1352.1,387.3 1350.6,386.6 1349.1,385.7 1347.7,384.6 1346.4,383.5 1345.3,382.2 1344.3,380.7 1343.5,379.2 1342.8,377.6 1342.3,376.0 1342.0,374.3 1341.8,372.6 1341.8,370.8 1346.0,370.3 1345.9,371.6 1345.9,372.9 1346.1,374.2 1346.4,375.4 1346.8,376.6 1347.4,377.8 1348.0,378.9 1348.8,380.0 1349.7,380.9 1350.7,381.8 1351.7,382.5 1352.9,383.1 1354.1,383.7 1355.3,384.0 1356.6,384.3 1357.9,384.4 1359.2,384.4 1360.5,384.2 1361.7,383.9 1362.9,383.5 1364.1,382.9 1365.2,382.3 1366.3,381.5 1367.2,380.6 1368.1,379.6 1368.8,378.6 1369.4,377.4 1370.0,376.2 1370.3,375.0 1370.6,373.7 1370.7,372.4 1370.7,371.1"/></clipPath>
<polygon points="1374.6,369.7 1374.8,371.4 1374.8,373.2 1374.5,374.9 1374.2,376.5 1373.6,378.2 1372.9,379.7 1372.0,381.2 1370.9,382.6 1369.8,383.9 1368.5,385.0 1367.0,386.0 1365.5,386.8 1363.9,387.5 1362.3,388.0 1360.6,388.3 1358.9,388.5 1357.1,388.5 1355.4,388.2 1353.8,387.9 1352.1,387.3 1350.6,386.6 1349.1,385.7 1347.7,384.6 1346.4,383.5 1345.3,382.2 1344.3,380.7 1343.5,379.2 1342.8,377.6 1342.3,376.0 1342.0,374.3 1341.8,372.6 1341.8,370.8 1346.0,370.3 1345.9,371.6 1345.9,372.9 1346.1,374.2 1346.4,375.4 1346.8,376.6 1347.4,377.8 1348.0,378.9 1348.8,380.0 1349.7,380.9 1350.7,381.8 1351.7,382.5 1352.9,383.1 1354.1,383.7 1355.3,384.0 1356.6,384.3 1357.9,384.4 1359.2,384.4 1360.5,384.2 1361.7,383.9 1362.9,383.5 1364.1,382.9 1365.2,382.3 1366.3,381.5 1367.2,380.6 1368.1,379.6 1368.8,378.6 1369.4,377.4 1370.0,376.2 1370.3,375.0 1370.6,373.7 1370.7,372.4 1370.7,371.1" fill="#111" stroke="none" stroke-width="0" />
<g clip-path="url(#n3)"><line x1="1359.0" y1="348.7" x2="1388.7" y2="378.4" stroke="#fff" stroke-width="2.1"/><line x1="1355.9" y1="351.8" x2="1385.6" y2="381.5" stroke="#fff" stroke-width="2.1"/><line x1="1352.8" y1="354.9" x2="1382.5" y2="384.6" stroke="#fff" stroke-width="2.1"/><line x1="1349.7" y1="358.0" x2="1379.4" y2="387.7" stroke="#fff" stroke-width="2.1"/><line x1="1346.6" y1="361.2" x2="1376.2" y2="390.8" stroke="#fff" stroke-width="2.1"/><line x1="1343.5" y1="364.3" x2="1373.1" y2="393.9" stroke="#fff" stroke-width="2.1"/><line x1="1340.4" y1="367.4" x2="1370.0" y2="397.0" stroke="#fff" stroke-width="2.1"/><line x1="1337.2" y1="370.5" x2="1366.9" y2="400.2" stroke="#fff" stroke-width="2.1"/><line x1="1334.1" y1="373.6" x2="1363.8" y2="403.3" stroke="#fff" stroke-width="2.1"/><line x1="1331.0" y1="376.7" x2="1360.7" y2="406.4" stroke="#fff" stroke-width="2.1"/><line x1="1327.9" y1="379.8" x2="1357.6" y2="409.5" stroke="#fff" stroke-width="2.1"/></g>
<polygon points="1369.1,371.1 1369.1,372.0 1369.1,372.9 1368.9,373.9 1368.7,374.8 1368.4,375.7 1368.1,376.6 1367.7,377.4 1367.1,378.2 1366.6,378.9 1365.9,379.6 1365.2,380.3 1364.5,380.8 1363.7,381.4 1362.9,381.8 1362.0,382.1 1361.1,382.4 1360.2,382.6 1359.2,382.8 1358.3,382.8 1357.4,382.8 1356.4,382.6 1355.5,382.4 1354.6,382.1 1353.7,381.8 1352.9,381.4 1352.1,380.8 1351.4,380.3 1350.7,379.6 1350.0,378.9 1349.5,378.2 1348.9,377.4 1348.5,376.6 1348.2,375.7 1347.9,374.8 1347.7,373.9 1347.5,372.9 1347.5,372.0 1347.5,371.1" fill="#fff" stroke="none" stroke-width="0" />
<line x1="1349.0" y1="371.7" x2="1367.6" y2="371.7" stroke="#111" stroke-width="1.6" stroke-dasharray="4,2.5"/>
<clipPath id="x1"><polygon points="812.6,173.6 857.2,173.6 857.2,192.4 812.6,192.4"/></clipPath>
<polygon points="812.6,173.6 857.2,173.6 857.2,192.4 812.6,192.4" fill="#fff" stroke="none" stroke-width="0" />
<g clip-path="url(#x1)"><line x1="835.8" y1="145.0" x2="872.9" y2="182.1" stroke="#111" stroke-width="1.35"/><line x1="831.9" y1="148.9" x2="869.0" y2="186.0" stroke="#111" stroke-width="1.35"/><line x1="828.0" y1="152.8" x2="865.1" y2="189.9" stroke="#111" stroke-width="1.35"/><line x1="824.2" y1="156.7" x2="861.2" y2="193.7" stroke="#111" stroke-width="1.35"/><line x1="820.3" y1="160.6" x2="857.3" y2="197.6" stroke="#111" stroke-width="1.35"/><line x1="816.4" y1="164.5" x2="853.4" y2="201.5" stroke="#111" stroke-width="1.35"/><line x1="812.5" y1="168.4" x2="849.5" y2="205.4" stroke="#111" stroke-width="1.35"/><line x1="808.6" y1="172.3" x2="845.6" y2="209.3" stroke="#111" stroke-width="1.35"/><line x1="804.7" y1="176.1" x2="841.8" y2="213.2" stroke="#111" stroke-width="1.35"/><line x1="800.8" y1="180.0" x2="837.9" y2="217.1" stroke="#111" stroke-width="1.35"/><line x1="796.9" y1="183.9" x2="834.0" y2="221.0" stroke="#111" stroke-width="1.35"/><line x1="796.9" y1="182.1" x2="834.0" y2="145.0" stroke="#111" stroke-width="1.35"/><line x1="800.8" y1="186.0" x2="837.9" y2="148.9" stroke="#111" stroke-width="1.35"/><line x1="804.7" y1="189.9" x2="841.8" y2="152.8" stroke="#111" stroke-width="1.35"/><line x1="808.6" y1="193.7" x2="845.6" y2="156.7" stroke="#111" stroke-width="1.35"/><line x1="812.5" y1="197.6" x2="849.5" y2="160.6" stroke="#111" stroke-width="1.35"/><line x1="816.4" y1="201.5" x2="853.4" y2="164.5" stroke="#111" stroke-width="1.35"/><line x1="820.3" y1="205.4" x2="857.3" y2="168.4" stroke="#111" stroke-width="1.35"/><line x1="824.2" y1="209.3" x2="861.2" y2="172.3" stroke="#111" stroke-width="1.35"/><line x1="828.0" y1="213.2" x2="865.1" y2="176.1" stroke="#111" stroke-width="1.35"/><line x1="831.9" y1="217.1" x2="869.0" y2="180.0" stroke="#111" stroke-width="1.35"/><line x1="835.8" y1="221.0" x2="872.9" y2="183.9" stroke="#111" stroke-width="1.35"/></g>
<polygon points="812.6,173.6 857.2,173.6 857.2,192.4 812.6,192.4" fill="none" stroke="#111" stroke-width="2.0" />
<clipPath id="x2"><polygon points="812.8,244.8 857.2,244.8 857.2,265.6 812.8,265.6"/></clipPath>
<polygon points="812.8,244.8 857.2,244.8 857.2,265.6 812.8,265.6" fill="#fff" stroke="none" stroke-width="0" />
<g clip-path="url(#x2)"><line x1="835.7" y1="217.0" x2="873.2" y2="254.5" stroke="#111" stroke-width="1.35"/><line x1="831.8" y1="220.9" x2="869.3" y2="258.4" stroke="#111" stroke-width="1.35"/><line x1="827.9" y1="224.8" x2="865.4" y2="262.3" stroke="#111" stroke-width="1.35"/><line x1="824.0" y1="228.7" x2="861.5" y2="266.2" stroke="#111" stroke-width="1.35"/><line x1="820.1" y1="232.6" x2="857.6" y2="270.1" stroke="#111" stroke-width="1.35"/><line x1="816.3" y1="236.5" x2="853.7" y2="273.9" stroke="#111" stroke-width="1.35"/><line x1="812.4" y1="240.3" x2="849.9" y2="277.8" stroke="#111" stroke-width="1.35"/><line x1="808.5" y1="244.2" x2="846.0" y2="281.7" stroke="#111" stroke-width="1.35"/><line x1="804.6" y1="248.1" x2="842.1" y2="285.6" stroke="#111" stroke-width="1.35"/><line x1="800.7" y1="252.0" x2="838.2" y2="289.5" stroke="#111" stroke-width="1.35"/><line x1="796.8" y1="255.9" x2="834.3" y2="293.4" stroke="#111" stroke-width="1.35"/><line x1="796.8" y1="254.5" x2="834.3" y2="217.0" stroke="#111" stroke-width="1.35"/><line x1="800.7" y1="258.4" x2="838.2" y2="220.9" stroke="#111" stroke-width="1.35"/><line x1="804.6" y1="262.3" x2="842.1" y2="224.8" stroke="#111" stroke-width="1.35"/><line x1="808.5" y1="266.2" x2="846.0" y2="228.7" stroke="#111" stroke-width="1.35"/><line x1="812.4" y1="270.1" x2="849.9" y2="232.6" stroke="#111" stroke-width="1.35"/><line x1="816.3" y1="273.9" x2="853.7" y2="236.5" stroke="#111" stroke-width="1.35"/><line x1="820.1" y1="277.8" x2="857.6" y2="240.3" stroke="#111" stroke-width="1.35"/><line x1="824.0" y1="281.7" x2="861.5" y2="244.2" stroke="#111" stroke-width="1.35"/><line x1="827.9" y1="285.6" x2="865.4" y2="248.1" stroke="#111" stroke-width="1.35"/><line x1="831.8" y1="289.5" x2="869.3" y2="252.0" stroke="#111" stroke-width="1.35"/><line x1="835.7" y1="293.4" x2="873.2" y2="255.9" stroke="#111" stroke-width="1.35"/></g>
<polygon points="812.8,244.8 857.2,244.8 857.2,265.6 812.8,265.6" fill="none" stroke="#111" stroke-width="2.0" />
<clipPath id="x3"><polygon points="813.6,342.1 859.8,342.1 859.8,414.7 813.6,414.7"/></clipPath>
<polygon points="813.6,342.1 859.8,342.1 859.8,414.7 813.6,414.7" fill="#fff" stroke="none" stroke-width="0" />
<g clip-path="url(#x3)"><line x1="839.9" y1="311.6" x2="903.5" y2="375.2" stroke="#111" stroke-width="1.35"/><line x1="836.0" y1="315.4" x2="899.7" y2="379.1" stroke="#111" stroke-width="1.35"/><line x1="832.1" y1="319.3" x2="895.8" y2="383.0" stroke="#111" stroke-width="1.35"/><line x1="828.2" y1="323.2" x2="891.9" y2="386.9" stroke="#111" stroke-width="1.35"/><line x1="824.3" y1="327.1" x2="888.0" y2="390.8" stroke="#111" stroke-width="1.35"/><line x1="820.4" y1="331.0" x2="884.1" y2="394.7" stroke="#111" stroke-width="1.35"/><line x1="816.5" y1="334.9" x2="880.2" y2="398.6" stroke="#111" stroke-width="1.35"/><line x1="812.6" y1="338.8" x2="876.3" y2="402.5" stroke="#111" stroke-width="1.35"/><line x1="808.8" y1="342.7" x2="872.4" y2="406.3" stroke="#111" stroke-width="1.35"/><line x1="804.9" y1="346.6" x2="868.5" y2="410.2" stroke="#111" stroke-width="1.35"/><line x1="801.0" y1="350.5" x2="864.6" y2="414.1" stroke="#111" stroke-width="1.35"/><line x1="797.1" y1="354.3" x2="860.8" y2="418.0" stroke="#111" stroke-width="1.35"/><line x1="793.2" y1="358.2" x2="856.9" y2="421.9" stroke="#111" stroke-width="1.35"/><line x1="789.3" y1="362.1" x2="853.0" y2="425.8" stroke="#111" stroke-width="1.35"/><line x1="785.4" y1="366.0" x2="849.1" y2="429.7" stroke="#111" stroke-width="1.35"/><line x1="781.5" y1="369.9" x2="845.2" y2="433.6" stroke="#111" stroke-width="1.35"/><line x1="777.6" y1="373.8" x2="841.3" y2="437.5" stroke="#111" stroke-width="1.35"/><line x1="773.7" y1="377.7" x2="837.4" y2="441.4" stroke="#111" stroke-width="1.35"/><line x1="769.9" y1="381.6" x2="833.5" y2="445.2" stroke="#111" stroke-width="1.35"/><line x1="769.9" y1="375.2" x2="833.5" y2="311.6" stroke="#111" stroke-width="1.35"/><line x1="773.7" y1="379.1" x2="837.4" y2="315.4" stroke="#111" stroke-width="1.35"/><line x1="777.6" y1="383.0" x2="841.3" y2="319.3" stroke="#111" stroke-width="1.35"/><line x1="781.5" y1="386.9" x2="845.2" y2="323.2" stroke="#111" stroke-width="1.35"/><line x1="785.4" y1="390.8" x2="849.1" y2="327.1" stroke="#111" stroke-width="1.35"/><line x1="789.3" y1="394.7" x2="853.0" y2="331.0" stroke="#111" stroke-width="1.35"/><line x1="793.2" y1="398.6" x2="856.9" y2="334.9" stroke="#111" stroke-width="1.35"/><line x1="797.1" y1="402.5" x2="860.8" y2="338.8" stroke="#111" stroke-width="1.35"/><line x1="801.0" y1="406.3" x2="864.6" y2="342.7" stroke="#111" stroke-width="1.35"/><line x1="804.9" y1="410.2" x2="868.5" y2="346.6" stroke="#111" stroke-width="1.35"/><line x1="808.8" y1="414.1" x2="872.4" y2="350.5" stroke="#111" stroke-width="1.35"/><line x1="812.6" y1="418.0" x2="876.3" y2="354.3" stroke="#111" stroke-width="1.35"/><line x1="816.5" y1="421.9" x2="880.2" y2="358.2" stroke="#111" stroke-width="1.35"/><line x1="820.4" y1="425.8" x2="884.1" y2="362.1" stroke="#111" stroke-width="1.35"/><line x1="824.3" y1="429.7" x2="888.0" y2="366.0" stroke="#111" stroke-width="1.35"/><line x1="828.2" y1="433.6" x2="891.9" y2="369.9" stroke="#111" stroke-width="1.35"/><line x1="832.1" y1="437.5" x2="895.8" y2="373.8" stroke="#111" stroke-width="1.35"/><line x1="836.0" y1="441.4" x2="899.7" y2="377.7" stroke="#111" stroke-width="1.35"/><line x1="839.9" y1="445.2" x2="903.5" y2="381.6" stroke="#111" stroke-width="1.35"/></g>
<polygon points="813.6,342.1 859.8,342.1 859.8,414.7 813.6,414.7" fill="none" stroke="#111" stroke-width="2.0" />
<rect x="835.0" y="174.5" width="5.6" height="17.0" fill="#fff" stroke="none" stroke-width="0"/>
<line x1="837.5" y1="174.5" x2="837.5" y2="191.5" stroke="#111" stroke-width="1.4" stroke-dasharray="4,2.5"/>
<rect x="835.0" y="245.5" width="5.6" height="19.3" fill="#fff" stroke="none" stroke-width="0"/>
<line x1="837.5" y1="245.5" x2="837.5" y2="264.8" stroke="#111" stroke-width="1.4" stroke-dasharray="4,2.5"/>
<rect x="835.0" y="343.0" width="5.6" height="71.0" fill="#fff" stroke="none" stroke-width="0"/>
<line x1="837.5" y1="343.0" x2="837.5" y2="414.0" stroke="#111" stroke-width="1.4" stroke-dasharray="4,2.5"/>
<clipPath id="x4"><polygon points="860.5,437.4 875.6,437.4 875.6,454.8 860.5,454.8"/></clipPath>
<polygon points="860.5,437.4 875.6,437.4 875.6,454.8 860.5,454.8" fill="#fff" stroke="none" stroke-width="0" />
<g clip-path="url(#x4)"><line x1="869.5" y1="425.5" x2="888.6" y2="444.6" stroke="#111" stroke-width="1.35"/><line x1="865.8" y1="429.2" x2="885.0" y2="448.3" stroke="#111" stroke-width="1.35"/><line x1="862.2" y1="432.9" x2="881.3" y2="452.0" stroke="#111" stroke-width="1.35"/><line x1="858.5" y1="436.5" x2="877.6" y2="455.7" stroke="#111" stroke-width="1.35"/><line x1="854.8" y1="440.2" x2="873.9" y2="459.3" stroke="#111" stroke-width="1.35"/><line x1="851.1" y1="443.9" x2="870.3" y2="463.0" stroke="#111" stroke-width="1.35"/><line x1="847.5" y1="447.6" x2="866.6" y2="466.7" stroke="#111" stroke-width="1.35"/><line x1="847.5" y1="444.6" x2="866.6" y2="425.5" stroke="#111" stroke-width="1.35"/><line x1="851.1" y1="448.3" x2="870.3" y2="429.2" stroke="#111" stroke-width="1.35"/><line x1="854.8" y1="452.0" x2="873.9" y2="432.9" stroke="#111" stroke-width="1.35"/><line x1="858.5" y1="455.7" x2="877.6" y2="436.5" stroke="#111" stroke-width="1.35"/><line x1="862.2" y1="459.3" x2="881.3" y2="440.2" stroke="#111" stroke-width="1.35"/><line x1="865.8" y1="463.0" x2="885.0" y2="443.9" stroke="#111" stroke-width="1.35"/><line x1="869.5" y1="466.7" x2="888.6" y2="447.6" stroke="#111" stroke-width="1.35"/></g>
<polygon points="860.5,437.4 875.6,437.4 875.6,454.8 860.5,454.8" fill="none" stroke="#111" stroke-width="2.0" />
<rect x="813.6" y="414.7" width="46.4" height="49.9" fill="#fff" stroke="#111" stroke-width="1.8"/>
<line x1="813.6" y1="426.8" x2="860.0" y2="426.8" stroke="#111" stroke-width="1.7"/>
<line x1="813.6" y1="439.7" x2="860.0" y2="439.7" stroke="#111" stroke-width="1.7"/>
<line x1="813.6" y1="451.8" x2="860.0" y2="451.8" stroke="#111" stroke-width="1.7"/>
<line x1="837.1" y1="414.7" x2="837.1" y2="464.6" stroke="#111" stroke-width="1.7"/>
<circle cx="837.1" cy="465.2" r="1.6" fill="#111"/>
<line x1="898.6" y1="451.0" x2="1031.0" y2="582.4" stroke="#111" stroke-width="1.5" stroke-dasharray="8.4,3.4"/>
<line x1="1031.0" y1="454.8" x2="894.7" y2="587.4" stroke="#111" stroke-width="1.5" stroke-dasharray="8.4,3.4"/>
<line x1="1130.1" y1="497.0" x2="1267.3" y2="667.3" stroke="#111" stroke-width="1.5" stroke-dasharray="8.4,3.4"/>
<line x1="1102.1" y1="624.8" x2="1294.8" y2="530.0" stroke="#111" stroke-width="1.5" stroke-dasharray="8.4,3.4"/>
<line x1="912.8" y1="608.1" x2="1003.4" y2="628.9" stroke="#111" stroke-width="1.5" stroke-dasharray="8.4,3.4"/>
<line x1="910.2" y1="623.0" x2="998.6" y2="643.3" stroke="#111" stroke-width="1.5" stroke-dasharray="8.4,3.4"/>
<line x1="1066.8" y1="513.5" x2="1053.9" y2="584.1" stroke="#111" stroke-width="1.5" stroke-dasharray="8.4,3.4"/>
<line x1="1076.0" y1="532.8" x2="1067.7" y2="571.3" stroke="#111" stroke-width="1.5" stroke-dasharray="8.4,3.4"/>
<line x1="1086.1" y1="530.0" x2="1077.8" y2="571.3" stroke="#111" stroke-width="1.5" stroke-dasharray="8.4,3.4"/>
<line x1="1117.2" y1="536.4" x2="1108.1" y2="582.3" stroke="#111" stroke-width="1.5" stroke-dasharray="8.4,3.4"/>
<line x1="1031.0" y1="455.7" x2="1021.0" y2="465.0" stroke="#111" stroke-width="1.5"/>
<clipPath id="x5"><polygon points="860.6,575.6 876.1,575.6 876.1,584.2 893.1,587.9 893.1,604.9 909.1,608.1 906.4,623.0 860.6,613.5"/></clipPath>
<polygon points="860.6,575.6 876.1,575.6 876.1,584.2 893.1,587.9 893.1,604.9 909.1,608.1 906.4,623.0 860.6,613.5" fill="#fff" stroke="none" stroke-width="0" />
<g clip-path="url(#x5)"><line x1="887.2" y1="546.2" x2="938.0" y2="597.0" stroke="#111" stroke-width="1.35"/><line x1="883.2" y1="550.2" x2="934.0" y2="600.9" stroke="#111" stroke-width="1.35"/><line x1="879.3" y1="554.1" x2="930.0" y2="604.9" stroke="#111" stroke-width="1.35"/><line x1="875.3" y1="558.1" x2="926.1" y2="608.9" stroke="#111" stroke-width="1.35"/><line x1="871.3" y1="562.0" x2="922.1" y2="612.8" stroke="#111" stroke-width="1.35"/><line x1="867.4" y1="566.0" x2="918.2" y2="616.8" stroke="#111" stroke-width="1.35"/><line x1="863.4" y1="569.9" x2="914.2" y2="620.7" stroke="#111" stroke-width="1.35"/><line x1="859.5" y1="573.9" x2="910.2" y2="624.7" stroke="#111" stroke-width="1.35"/><line x1="855.5" y1="577.9" x2="906.3" y2="628.7" stroke="#111" stroke-width="1.35"/><line x1="851.5" y1="581.8" x2="902.3" y2="632.6" stroke="#111" stroke-width="1.35"/><line x1="847.6" y1="585.8" x2="898.4" y2="636.6" stroke="#111" stroke-width="1.35"/><line x1="843.6" y1="589.7" x2="894.4" y2="640.5" stroke="#111" stroke-width="1.35"/><line x1="839.7" y1="593.7" x2="890.4" y2="644.5" stroke="#111" stroke-width="1.35"/><line x1="835.7" y1="597.7" x2="886.5" y2="648.4" stroke="#111" stroke-width="1.35"/><line x1="831.7" y1="601.6" x2="882.5" y2="652.4" stroke="#111" stroke-width="1.35"/><line x1="831.7" y1="597.0" x2="882.5" y2="546.2" stroke="#111" stroke-width="1.35"/><line x1="835.7" y1="600.9" x2="886.5" y2="550.2" stroke="#111" stroke-width="1.35"/><line x1="839.7" y1="604.9" x2="890.4" y2="554.1" stroke="#111" stroke-width="1.35"/><line x1="843.6" y1="608.9" x2="894.4" y2="558.1" stroke="#111" stroke-width="1.35"/><line x1="847.6" y1="612.8" x2="898.4" y2="562.0" stroke="#111" stroke-width="1.35"/><line x1="851.5" y1="616.8" x2="902.3" y2="566.0" stroke="#111" stroke-width="1.35"/><line x1="855.5" y1="620.7" x2="906.3" y2="569.9" stroke="#111" stroke-width="1.35"/><line x1="859.5" y1="624.7" x2="910.2" y2="573.9" stroke="#111" stroke-width="1.35"/><line x1="863.4" y1="628.7" x2="914.2" y2="577.9" stroke="#111" stroke-width="1.35"/><line x1="867.4" y1="632.6" x2="918.2" y2="581.8" stroke="#111" stroke-width="1.35"/><line x1="871.3" y1="636.6" x2="922.1" y2="585.8" stroke="#111" stroke-width="1.35"/><line x1="875.3" y1="640.5" x2="926.1" y2="589.7" stroke="#111" stroke-width="1.35"/><line x1="879.3" y1="644.5" x2="930.0" y2="593.7" stroke="#111" stroke-width="1.35"/><line x1="883.2" y1="648.4" x2="934.0" y2="597.7" stroke="#111" stroke-width="1.35"/><line x1="887.2" y1="652.4" x2="938.0" y2="601.6" stroke="#111" stroke-width="1.35"/></g>
<polygon points="860.6,575.6 876.1,575.6 876.1,584.2 893.1,587.9 893.1,604.9 909.1,608.1 906.4,623.0 860.6,613.5" fill="none" stroke="#111" stroke-width="2.2" />
<polygon points="1067.0,571.3 1077.4,573.3 1077.4,578.1 1108.1,585.0 1082.8,719.0 1028.9,708.1 1031.0,680.0 1040.0,650.0 1052.4,618.3 1053.7,596.3 1051.8,587.2 1063.1,589.2" fill="#111" stroke="none" stroke-width="0" />
<clipPath id="x6"><polygon points="1031.3,582.7 1049.5,586.6 1053.7,596.3 1052.4,618.3 1048.3,625.0 1046.1,636.9 1040.0,650.0 1003.0,643.4 1003.5,629.8 1022.4,630.3"/></clipPath>
<polygon points="1031.3,582.7 1049.5,586.6 1053.7,596.3 1052.4,618.3 1048.3,625.0 1046.1,636.9 1040.0,650.0 1003.0,643.4 1003.5,629.8 1022.4,630.3" fill="#fff" stroke="none" stroke-width="0" />
<g clip-path="url(#x6)"><line x1="1028.8" y1="553.5" x2="1091.2" y2="615.9" stroke="#111" stroke-width="1.35"/><line x1="1024.9" y1="557.4" x2="1087.3" y2="619.8" stroke="#111" stroke-width="1.35"/><line x1="1020.9" y1="561.4" x2="1083.3" y2="623.8" stroke="#111" stroke-width="1.35"/><line x1="1016.9" y1="565.3" x2="1079.4" y2="627.8" stroke="#111" stroke-width="1.35"/><line x1="1013.0" y1="569.3" x2="1075.4" y2="631.7" stroke="#111" stroke-width="1.35"/><line x1="1009.0" y1="573.3" x2="1071.4" y2="635.7" stroke="#111" stroke-width="1.35"/><line x1="1005.1" y1="577.2" x2="1067.5" y2="639.6" stroke="#111" stroke-width="1.35"/><line x1="1001.1" y1="581.2" x2="1063.5" y2="643.6" stroke="#111" stroke-width="1.35"/><line x1="997.1" y1="585.1" x2="1059.6" y2="647.6" stroke="#111" stroke-width="1.35"/><line x1="993.2" y1="589.1" x2="1055.6" y2="651.5" stroke="#111" stroke-width="1.35"/><line x1="989.2" y1="593.1" x2="1051.6" y2="655.5" stroke="#111" stroke-width="1.35"/><line x1="985.3" y1="597.0" x2="1047.7" y2="659.4" stroke="#111" stroke-width="1.35"/><line x1="981.3" y1="601.0" x2="1043.7" y2="663.4" stroke="#111" stroke-width="1.35"/><line x1="977.3" y1="604.9" x2="1039.8" y2="667.4" stroke="#111" stroke-width="1.35"/><line x1="973.4" y1="608.9" x2="1035.8" y2="671.3" stroke="#111" stroke-width="1.35"/><line x1="969.4" y1="612.9" x2="1031.8" y2="675.3" stroke="#111" stroke-width="1.35"/><line x1="965.5" y1="616.8" x2="1027.9" y2="679.2" stroke="#111" stroke-width="1.35"/><line x1="965.5" y1="615.9" x2="1027.9" y2="553.5" stroke="#111" stroke-width="1.35"/><line x1="969.4" y1="619.8" x2="1031.8" y2="557.4" stroke="#111" stroke-width="1.35"/><line x1="973.4" y1="623.8" x2="1035.8" y2="561.4" stroke="#111" stroke-width="1.35"/><line x1="977.3" y1="627.8" x2="1039.8" y2="565.3" stroke="#111" stroke-width="1.35"/><line x1="981.3" y1="631.7" x2="1043.7" y2="569.3" stroke="#111" stroke-width="1.35"/><line x1="985.3" y1="635.7" x2="1047.7" y2="573.3" stroke="#111" stroke-width="1.35"/><line x1="989.2" y1="639.6" x2="1051.6" y2="577.2" stroke="#111" stroke-width="1.35"/><line x1="993.2" y1="643.6" x2="1055.6" y2="581.2" stroke="#111" stroke-width="1.35"/><line x1="997.1" y1="647.6" x2="1059.6" y2="585.1" stroke="#111" stroke-width="1.35"/><line x1="1001.1" y1="651.5" x2="1063.5" y2="589.1" stroke="#111" stroke-width="1.35"/><line x1="1005.1" y1="655.5" x2="1067.5" y2="593.1" stroke="#111" stroke-width="1.35"/><line x1="1009.0" y1="659.4" x2="1071.4" y2="597.0" stroke="#111" stroke-width="1.35"/><line x1="1013.0" y1="663.4" x2="1075.4" y2="601.0" stroke="#111" stroke-width="1.35"/><line x1="1016.9" y1="667.4" x2="1079.4" y2="604.9" stroke="#111" stroke-width="1.35"/><line x1="1020.9" y1="671.3" x2="1083.3" y2="608.9" stroke="#111" stroke-width="1.35"/><line x1="1024.9" y1="675.3" x2="1087.3" y2="612.9" stroke="#111" stroke-width="1.35"/><line x1="1028.8" y1="679.2" x2="1091.2" y2="616.8" stroke="#111" stroke-width="1.35"/></g>
<polygon points="1031.3,582.7 1049.5,586.6 1053.7,596.3 1052.4,618.3 1048.3,625.0 1046.1,636.9 1040.0,650.0 1003.0,643.4 1003.5,629.8 1022.4,630.3" fill="none" stroke="#111" stroke-width="2.2" />
<clipPath id="hR"><polygon points="1044.5,646.5 1085.8,657.0 1077.5,707.0 1036.0,700.0"/></clipPath>
<polygon points="1044.5,646.5 1085.8,657.0 1077.5,707.0 1036.0,700.0" fill="#111" stroke="none" stroke-width="0" />
<g clip-path="url(#hR)"><line x1="1002.9" y1="686.4" x2="1050.1" y2="618.9" stroke="#fff" stroke-width="1.3"/><line x1="1005.3" y1="688.1" x2="1052.6" y2="620.6" stroke="#fff" stroke-width="1.3"/><line x1="1007.8" y1="689.8" x2="1055.0" y2="622.4" stroke="#fff" stroke-width="1.3"/><line x1="1010.2" y1="691.6" x2="1057.5" y2="624.1" stroke="#fff" stroke-width="1.3"/><line x1="1012.7" y1="693.3" x2="1059.9" y2="625.8" stroke="#fff" stroke-width="1.3"/><line x1="1015.2" y1="695.0" x2="1062.4" y2="627.5" stroke="#fff" stroke-width="1.3"/><line x1="1017.6" y1="696.7" x2="1064.9" y2="629.3" stroke="#fff" stroke-width="1.3"/><line x1="1020.1" y1="698.4" x2="1067.3" y2="631.0" stroke="#fff" stroke-width="1.3"/><line x1="1022.5" y1="700.2" x2="1069.8" y2="632.7" stroke="#fff" stroke-width="1.3"/><line x1="1025.0" y1="701.9" x2="1072.2" y2="634.4" stroke="#fff" stroke-width="1.3"/><line x1="1027.5" y1="703.6" x2="1074.7" y2="636.1" stroke="#fff" stroke-width="1.3"/><line x1="1029.9" y1="705.3" x2="1077.1" y2="637.9" stroke="#fff" stroke-width="1.3"/><line x1="1032.4" y1="707.0" x2="1079.6" y2="639.6" stroke="#fff" stroke-width="1.3"/><line x1="1034.8" y1="708.8" x2="1082.1" y2="641.3" stroke="#fff" stroke-width="1.3"/><line x1="1037.3" y1="710.5" x2="1084.5" y2="643.0" stroke="#fff" stroke-width="1.3"/><line x1="1039.7" y1="712.2" x2="1087.0" y2="644.7" stroke="#fff" stroke-width="1.3"/><line x1="1042.2" y1="713.9" x2="1089.4" y2="646.5" stroke="#fff" stroke-width="1.3"/><line x1="1044.7" y1="715.6" x2="1091.9" y2="648.2" stroke="#fff" stroke-width="1.3"/><line x1="1047.1" y1="717.4" x2="1094.3" y2="649.9" stroke="#fff" stroke-width="1.3"/><line x1="1049.6" y1="719.1" x2="1096.8" y2="651.6" stroke="#fff" stroke-width="1.3"/><line x1="1052.0" y1="720.8" x2="1099.3" y2="653.3" stroke="#fff" stroke-width="1.3"/><line x1="1054.5" y1="722.5" x2="1101.7" y2="655.1" stroke="#fff" stroke-width="1.3"/><line x1="1056.9" y1="724.2" x2="1104.2" y2="656.8" stroke="#fff" stroke-width="1.3"/><line x1="1059.4" y1="726.0" x2="1106.6" y2="658.5" stroke="#fff" stroke-width="1.3"/><line x1="1061.9" y1="727.7" x2="1109.1" y2="660.2" stroke="#fff" stroke-width="1.3"/><line x1="1064.3" y1="729.4" x2="1111.6" y2="661.9" stroke="#fff" stroke-width="1.3"/><line x1="1066.8" y1="731.1" x2="1114.0" y2="663.7" stroke="#fff" stroke-width="1.3"/><line x1="1069.2" y1="732.9" x2="1116.5" y2="665.4" stroke="#fff" stroke-width="1.3"/><line x1="1071.7" y1="734.6" x2="1118.9" y2="667.1" stroke="#fff" stroke-width="1.3"/></g>
<polygon points="1010.1,646.4 1040.5,650.8 1048.5,652.5 1081.3,661.3 1075.8,700.2 1049.0,695.6 1047.5,680.5 1031.0,679.6 1028.4,708.6 1027.5,714.5 1018.9,722.1 1006.9,718.9 996.8,714.3" fill="#fff" stroke="none" stroke-width="0" />
<clipPath id="hCore"><polygon points="1034.8,681.0 1046.8,681.5 1047.6,704.5 1034.0,703.0"/></clipPath>
<polygon points="1034.8,681.0 1046.8,681.5 1047.6,704.5 1034.0,703.0" fill="#111" stroke="none" stroke-width="0" />
<g clip-path="url(#hCore)"><line x1="1017.1" y1="695.2" x2="1035.0" y2="669.7" stroke="#fff" stroke-width="1.3"/><line x1="1019.6" y1="696.9" x2="1037.4" y2="671.4" stroke="#fff" stroke-width="1.3"/><line x1="1022.0" y1="698.6" x2="1039.9" y2="673.1" stroke="#fff" stroke-width="1.3"/><line x1="1024.5" y1="700.3" x2="1042.4" y2="674.8" stroke="#fff" stroke-width="1.3"/><line x1="1027.0" y1="702.1" x2="1044.8" y2="676.5" stroke="#fff" stroke-width="1.3"/><line x1="1029.4" y1="703.8" x2="1047.3" y2="678.3" stroke="#fff" stroke-width="1.3"/><line x1="1031.9" y1="705.5" x2="1049.7" y2="680.0" stroke="#fff" stroke-width="1.3"/><line x1="1034.3" y1="707.2" x2="1052.2" y2="681.7" stroke="#fff" stroke-width="1.3"/><line x1="1036.8" y1="709.0" x2="1054.6" y2="683.4" stroke="#fff" stroke-width="1.3"/><line x1="1039.2" y1="710.7" x2="1057.1" y2="685.2" stroke="#fff" stroke-width="1.3"/><line x1="1041.7" y1="712.4" x2="1059.6" y2="686.9" stroke="#fff" stroke-width="1.3"/><line x1="1044.2" y1="714.1" x2="1062.0" y2="688.6" stroke="#fff" stroke-width="1.3"/><line x1="1046.6" y1="715.8" x2="1064.5" y2="690.3" stroke="#fff" stroke-width="1.3"/></g>
<polyline points="1010.1,646.4 996.8,714.3 1006.9,718.9 1018.9,722.1" fill="none" stroke="#111" stroke-width="1.4" />
<line x1="1019.3" y1="659.3" x2="1006.9" y2="718.9" stroke="#111" stroke-width="1.4"/>
<line x1="1019.3" y1="658.8" x2="1058.0" y2="666.5" stroke="#111" stroke-width="1.4"/>
<line x1="1006.9" y1="667.5" x2="1025.3" y2="670.7" stroke="#111" stroke-width="1.3"/>
<line x1="1005.1" y1="676.2" x2="1031.0" y2="680.6" stroke="#111" stroke-width="1.3"/>
<line x1="1003.3" y1="685.0" x2="1029.5" y2="690.0" stroke="#111" stroke-width="1.3"/>
<line x1="1001.9" y1="693.2" x2="1029.0" y2="698.3" stroke="#111" stroke-width="1.3"/>
<line x1="1000.0" y1="701.5" x2="1028.3" y2="706.1" stroke="#111" stroke-width="1.3"/>
<line x1="998.7" y1="709.7" x2="1027.1" y2="714.3" stroke="#111" stroke-width="1.3"/>
<line x1="1027.1" y1="709.7" x2="1025.7" y2="717.1" stroke="#111" stroke-width="1.3"/>
<line x1="1025.3" y1="659.0" x2="1025.3" y2="670.7" stroke="#111" stroke-width="1.3"/>
<line x1="1030.3" y1="651.6" x2="1029.8" y2="679.5" stroke="#111" stroke-width="1.3"/>
<line x1="1038.1" y1="653.3" x2="1037.6" y2="679.5" stroke="#111" stroke-width="1.3"/>
<line x1="1045.0" y1="654.8" x2="1044.5" y2="679.5" stroke="#111" stroke-width="1.3"/>
<line x1="1051.0" y1="656.1" x2="1050.5" y2="679.5" stroke="#111" stroke-width="1.3"/>
<line x1="1057.0" y1="666.5" x2="1055.8" y2="698.0" stroke="#111" stroke-width="1.3"/>
<line x1="1047.5" y1="681.0" x2="1077.5" y2="686.0" stroke="#111" stroke-width="1.3"/>
<line x1="1048.5" y1="689.8" x2="1076.5" y2="694.5" stroke="#111" stroke-width="1.3"/>
<line x1="1066.0" y1="668.5" x2="1064.5" y2="697.5" stroke="#111" stroke-width="1.3"/>
<polygon points="1006.9,716.8 1009.0,718.9 1006.9,721.0 1004.8,718.9" fill="#111" stroke="none" stroke-width="0" />
<polygon points="960.5,473.5 974.3,473.5 967.3,461.8" fill="#333" stroke="none" stroke-width="0" />
<polygon points="1038.3,538.3 1050.3,546.0 1038.3,551.1" fill="#333" stroke="none" stroke-width="0" />
<polygon points="1222.8,146.9 1237.3,146.9 1229.8,158.6" fill="#333" stroke="none" stroke-width="0" />
<line x1="922.5" y1="217.4" x2="1015.5" y2="218.2" stroke="#111" stroke-width="1.7" stroke-dasharray="8,4.2"/>
<line x1="913.5" y1="227.4" x2="1024.5" y2="228.0" stroke="#111" stroke-width="1.7" stroke-dasharray="8,4.2"/>
<line x1="1059.5" y1="220.7" x2="1169.5" y2="221.3" stroke="#111" stroke-width="1.7" stroke-dasharray="8,4.2"/>
<line x1="1048.5" y1="230.9" x2="1177.5" y2="231.4" stroke="#111" stroke-width="1.7" stroke-dasharray="8,4.2"/>
<line x1="1204.8" y1="222.3" x2="1306.5" y2="222.8" stroke="#111" stroke-width="1.7" stroke-dasharray="8,4.2"/>
<line x1="1193.5" y1="232.5" x2="1315.5" y2="233.0" stroke="#111" stroke-width="1.7" stroke-dasharray="8,4.2"/>
<line x1="912.4" y1="387.7" x2="1016.0" y2="389.0" stroke="#111" stroke-width="1.7" stroke-dasharray="8,4.2"/>
<line x1="922.6" y1="397.3" x2="1006.5" y2="398.5" stroke="#111" stroke-width="1.7" stroke-dasharray="8,4.2"/>
<line x1="947.5" y1="407.8" x2="987.5" y2="408.3" stroke="#111" stroke-width="1.7" stroke-dasharray="8,4.2"/>
<line x1="1055.6" y1="390.4" x2="1163.8" y2="391.6" stroke="#111" stroke-width="1.7" stroke-dasharray="8,4.2"/>
<line x1="1065.0" y1="400.6" x2="1155.5" y2="401.4" stroke="#111" stroke-width="1.7" stroke-dasharray="8,4.2"/>
<line x1="1200.5" y1="394.0" x2="1306.0" y2="394.6" stroke="#111" stroke-width="1.7" stroke-dasharray="8,4.2"/>
<line x1="1212.0" y1="404.2" x2="1297.0" y2="404.9" stroke="#111" stroke-width="1.7" stroke-dasharray="8,4.2"/>
<line x1="1224.0" y1="212.7" x2="1237.5" y2="212.7" stroke="#111" stroke-width="1.7" stroke-dasharray="8,4.2"/>
<line x1="949.0" y1="436.5" x2="985.5" y2="436.8" stroke="#111" stroke-width="1.7" stroke-dasharray="8,4.2"/>
<line x1="949.5" y1="449.7" x2="985.5" y2="450.0" stroke="#111" stroke-width="1.7" stroke-dasharray="8,4.2"/>
<line x1="1144.3" y1="211.5" x2="1144.3" y2="411.0" stroke="#111" stroke-width="0.9"/>
<line x1="1147.2" y1="211.5" x2="1147.2" y2="411.0" stroke="#111" stroke-width="0.9"/>
<line x1="952.4" y1="221.0" x2="951.8" y2="272.4" stroke="#111" stroke-width="0.9"/>
<line x1="964.9" y1="222.0" x2="964.3" y2="273.6" stroke="#111" stroke-width="0.9"/>
<line x1="978.6" y1="221.0" x2="978.0" y2="278.6" stroke="#111" stroke-width="0.9"/>
<line x1="987.3" y1="222.0" x2="986.7" y2="277.4" stroke="#111" stroke-width="0.9"/>
<line x1="1001.1" y1="223.0" x2="1000.5" y2="283.6" stroke="#111" stroke-width="0.9"/>
<line x1="1011.0" y1="222.5" x2="1010.4" y2="272.4" stroke="#111" stroke-width="0.9"/>
<line x1="914.9" y1="281.1" x2="1019.8" y2="288.6" stroke="#111" stroke-width="0.9"/>
<line x1="913.7" y1="296.1" x2="912.9" y2="362.3" stroke="#111" stroke-width="0.9"/>
<line x1="924.9" y1="294.9" x2="924.1" y2="349.8" stroke="#111" stroke-width="0.9"/>
<line x1="939.9" y1="291.1" x2="939.1" y2="343.6" stroke="#111" stroke-width="0.9"/>
<line x1="1003.6" y1="296.1" x2="1002.8" y2="357.3" stroke="#111" stroke-width="0.9"/>
<line x1="919.9" y1="356.0" x2="1018.5" y2="362.3" stroke="#111" stroke-width="0.9"/>
<line x1="914.9" y1="373.5" x2="1009.8" y2="378.5" stroke="#111" stroke-width="0.9"/>
<line x1="1068.5" y1="233.7" x2="1133.4" y2="236.2" stroke="#111" stroke-width="0.9"/>
<line x1="1049.8" y1="243.7" x2="1135.9" y2="249.9" stroke="#111" stroke-width="0.9"/>
<line x1="1056.0" y1="259.9" x2="1137.1" y2="264.9" stroke="#111" stroke-width="0.9"/>
<line x1="1056.0" y1="272.4" x2="1138.4" y2="277.4" stroke="#111" stroke-width="0.9"/>
<line x1="1059.7" y1="286.1" x2="1137.1" y2="291.1" stroke="#111" stroke-width="0.9"/>
<line x1="1053.5" y1="299.9" x2="1134.6" y2="305.4" stroke="#111" stroke-width="0.9"/>
<line x1="1067.2" y1="314.8" x2="1138.4" y2="318.6" stroke="#111" stroke-width="0.9"/>
<line x1="1058.5" y1="327.3" x2="1134.6" y2="331.1" stroke="#111" stroke-width="0.9"/>
<line x1="1049.8" y1="341.1" x2="1135.9" y2="343.6" stroke="#111" stroke-width="0.9"/>
<line x1="1069.7" y1="353.5" x2="1137.1" y2="356.8" stroke="#111" stroke-width="0.9"/>
<line x1="1054.7" y1="366.0" x2="1102.2" y2="367.8" stroke="#111" stroke-width="0.9"/>
<line x1="1118.4" y1="368.5" x2="1138.4" y2="369.8" stroke="#111" stroke-width="0.9"/>
<line x1="1060.0" y1="378.4" x2="1138.5" y2="380.2" stroke="#111" stroke-width="0.9"/>
<line x1="1179.4" y1="246.0" x2="1178.9" y2="296.0" stroke="#111" stroke-width="0.9"/>
<line x1="1191.1" y1="246.0" x2="1190.6" y2="296.0" stroke="#111" stroke-width="0.9"/>
<line x1="1203.6" y1="235.0" x2="1203.1" y2="296.0" stroke="#111" stroke-width="0.9"/>
<line x1="1214.9" y1="235.0" x2="1214.4" y2="296.0" stroke="#111" stroke-width="0.9"/>
<line x1="1226.1" y1="235.0" x2="1225.6" y2="296.0" stroke="#111" stroke-width="0.9"/>
<line x1="1238.6" y1="235.0" x2="1238.1" y2="296.0" stroke="#111" stroke-width="0.9"/>
<line x1="1248.6" y1="235.0" x2="1248.1" y2="296.0" stroke="#111" stroke-width="0.9"/>
<line x1="1258.6" y1="235.0" x2="1258.1" y2="296.0" stroke="#111" stroke-width="0.9"/>
<line x1="1269.8" y1="235.0" x2="1269.3" y2="296.0" stroke="#111" stroke-width="0.9"/>
<line x1="1279.8" y1="235.0" x2="1279.3" y2="296.0" stroke="#111" stroke-width="0.9"/>
<line x1="1291.0" y1="235.0" x2="1290.5" y2="296.0" stroke="#111" stroke-width="0.9"/>
<line x1="1161.6" y1="225.0" x2="1162.2" y2="325.0" stroke="#111" stroke-width="0.9"/>
<line x1="1162.2" y1="305.0" x2="1311.4" y2="309.2" stroke="#111" stroke-width="0.9"/>
<line x1="1162.2" y1="318.8" x2="1311.4" y2="322.4" stroke="#111" stroke-width="0.9"/>
<line x1="1312.2" y1="253.0" x2="1312.2" y2="381.5" stroke="#111" stroke-width="0.9"/>
<line x1="1201.7" y1="326.0" x2="1200.9" y2="398.0" stroke="#111" stroke-width="0.9"/>
<line x1="1210.7" y1="326.0" x2="1209.9" y2="398.0" stroke="#111" stroke-width="0.9"/>
<line x1="1221.5" y1="326.0" x2="1220.7" y2="398.0" stroke="#111" stroke-width="0.9"/>
<line x1="1232.3" y1="326.0" x2="1231.5" y2="398.0" stroke="#111" stroke-width="0.9"/>
<line x1="1242.5" y1="326.0" x2="1241.7" y2="398.0" stroke="#111" stroke-width="0.9"/>
<line x1="1253.3" y1="326.0" x2="1252.5" y2="398.0" stroke="#111" stroke-width="0.9"/>
<line x1="1265.8" y1="326.0" x2="1265.0" y2="398.0" stroke="#111" stroke-width="0.9"/>
<line x1="1277.2" y1="326.0" x2="1276.4" y2="398.0" stroke="#111" stroke-width="0.9"/>
<line x1="1289.8" y1="326.0" x2="1289.0" y2="398.0" stroke="#111" stroke-width="0.9"/>
<line x1="1300.0" y1="326.0" x2="1299.2" y2="398.0" stroke="#111" stroke-width="0.9"/>
<line x1="1290.0" y1="309.0" x2="1312.2" y2="309.0" stroke="#111" stroke-width="0.9"/>
<line x1="1299.0" y1="322.8" x2="1299.0" y2="390.0" stroke="#111" stroke-width="0.9"/>
<rect x="1158.0" y="324.8" width="35.3" height="57.2" fill="#fff" stroke="none" stroke-width="0"/>
<clipPath id="hM"><polygon points="1158.0,344.0 1193.3,344.0 1193.3,382.0 1158.0,382.0"/></clipPath>
<polygon points="1158.0,344.0 1193.3,344.0 1193.3,382.0 1158.0,382.0" fill="#fff" stroke="none" stroke-width="0" />
<g clip-path="url(#hM)"><line x1="1177.1" y1="322.0" x2="1216.6" y2="361.5" stroke="#111" stroke-width="1.3"/><line x1="1173.6" y1="325.6" x2="1213.1" y2="365.1" stroke="#111" stroke-width="1.3"/><line x1="1170.0" y1="329.1" x2="1209.5" y2="368.6" stroke="#111" stroke-width="1.3"/><line x1="1166.5" y1="332.6" x2="1206.0" y2="372.1" stroke="#111" stroke-width="1.3"/><line x1="1163.0" y1="336.2" x2="1202.5" y2="375.7" stroke="#111" stroke-width="1.3"/><line x1="1159.4" y1="339.7" x2="1198.9" y2="379.2" stroke="#111" stroke-width="1.3"/><line x1="1155.9" y1="343.2" x2="1195.4" y2="382.8" stroke="#111" stroke-width="1.3"/><line x1="1152.4" y1="346.8" x2="1191.9" y2="386.3" stroke="#111" stroke-width="1.3"/><line x1="1148.8" y1="350.3" x2="1188.3" y2="389.8" stroke="#111" stroke-width="1.3"/><line x1="1145.3" y1="353.9" x2="1184.8" y2="393.4" stroke="#111" stroke-width="1.3"/><line x1="1141.8" y1="357.4" x2="1181.3" y2="396.9" stroke="#111" stroke-width="1.3"/><line x1="1138.2" y1="360.9" x2="1177.7" y2="400.4" stroke="#111" stroke-width="1.3"/><line x1="1134.7" y1="364.5" x2="1174.2" y2="404.0" stroke="#111" stroke-width="1.3"/></g>
<rect x="1158.0" y="324.8" width="35.3" height="57.2" fill="none" stroke="#111" stroke-width="2.0"/>
<rect x="1164.6" y="326.0" width="22.1" height="17.3" fill="#fff" stroke="#111" stroke-width="1.4"/>
<line x1="1164.6" y1="332.0" x2="1186.7" y2="332.0" stroke="#111" stroke-width="1.3"/>
<line x1="1164.6" y1="338.0" x2="1186.7" y2="338.0" stroke="#111" stroke-width="1.3"/>
<line x1="1176.5" y1="326.0" x2="1176.5" y2="343.3" stroke="#111" stroke-width="1.3"/>
<line x1="1164.0" y1="346.0" x2="1164.0" y2="381.0" stroke="#111" stroke-width="1.2" stroke-dasharray="3,2.5"/>
<line x1="1186.7" y1="346.0" x2="1186.7" y2="381.0" stroke="#111" stroke-width="1.2" stroke-dasharray="3,2.5"/>
<text x="1152.0" y="317.8" font-family="Liberation Sans" font-size="16.6" fill="#111">minbar</text>
<text x="1322.5" y="318.6" font-family="Liberation Sans" font-size="16.6" fill="#111">mihrab</text>
<text x="1073.4" y="246.4" font-family="Liberation Sans" font-size="15.5" fill="#111">F</text>
<path d="M1086.3,232.2 C1092,231.6 1097.8,228.5 1097.3,224.5 C1096.9,221.5 1095,219 1093,216.6" fill="none" stroke="#111" stroke-width="1.6" />
<polyline points="1091.6,223.6 1092.8,216.2 1100.8,219.1" fill="none" stroke="#111" stroke-width="1.6" />
<line x1="1317.2" y1="321.2" x2="1117.5" y2="404.9" stroke="#111" stroke-width="1.0"/>
<line x1="1337.2" y1="327.5" x2="1252.3" y2="418.6" stroke="#111" stroke-width="1.0"/>
<line x1="1345.7" y1="328.2" x2="1353.5" y2="362.3" stroke="#111" stroke-width="1.0"/>
<polygon points="1079.2,460.0 1080.6,453.9 1085.1,447.4 1093.4,443.8 1104.4,441.0 1115.4,441.9 1130.1,444.7 1134.7,452.0 1120.0,534.6 1087.9,529.1 1087.0,531.8 1076.9,530.9 1078.7,512.6 1068.6,508.9" fill="#111" stroke="none" stroke-width="0" />
<polyline points="1079.2,460.0 1080.6,453.9 1085.1,447.4 1093.4,443.8 1104.4,441.0 1115.4,441.9 1130.1,444.7 1134.7,452.0" fill="none" stroke="#fff" stroke-width="1.3" />
<text x="42.3" y="837" font-family="Liberation Serif" font-size="24.9" fill="#000">Plan de la chapelle de la tour T05: niveau 1 et rez de chaussée</text>
<text x="42.3" y="866.7" font-family="Liberation Serif" font-size="24.9" fill="#000">source: Biller (2006)</text>
<text x="982.6" y="813.8" font-family="Liberation Serif" font-size="24.8" fill="#000">0</text>
<text x="1329.6" y="815.5" font-family="Liberation Serif" font-size="24.8" fill="#000">15m</text>
<rect x="992.7" y="823.3" width="347.3" height="9.6" fill="#222" stroke="none" stroke-width="0"/>
<rect x="1014.6" y="825.0" width="23.7" height="6.4" fill="#fff" stroke="none" stroke-width="0"/>
<rect x="1061.8" y="825.0" width="21.9" height="6.4" fill="#fff" stroke="none" stroke-width="0"/>
<rect x="1108.0" y="825.0" width="114.0" height="6.4" fill="#fff" stroke="none" stroke-width="0"/></svg></body></html>
